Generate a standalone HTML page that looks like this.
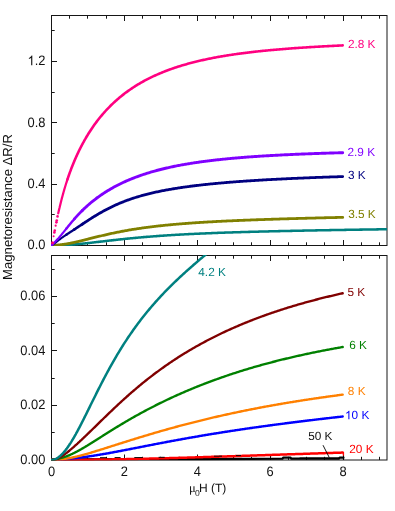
<!DOCTYPE html>
<html lang="en">
<head>
<meta charset="utf-8">
<title>Magnetoresistance vs field</title>
<style>
html,body{margin:0;padding:0;background:#fff;}
body{width:395px;height:511px;overflow:hidden;font-family:"Liberation Sans",sans-serif;}
svg{display:block;will-change:transform;}
svg text{text-rendering:geometricPrecision;}
</style>
</head>
<body>
<svg width="395" height="511" viewBox="0 0 395 511">
<rect x="0" y="0" width="395" height="511" fill="#fff"/>
<defs>
<clipPath id="ct"><rect x="51.0" y="15.5" width="336.0" height="230.5"/></clipPath>
<clipPath id="cb"><rect x="51.0" y="254.9" width="336.0" height="205.7"/></clipPath>
</defs>
<g stroke="#161616" stroke-width="1.0" fill="none" shape-rendering="auto">
<rect x="51.5" y="15.5" width="335.5" height="230.0"/>
<rect x="51.5" y="255.5" width="335.5" height="204.5"/>
<path d="M69.50 15.5 v3.2 M69.50 245.5 v-3.2 M69.50 255.5 v3.2 M69.50 460.0 v-3.2 M87.50 15.5 v3.2 M87.50 245.5 v-3.2 M87.50 255.5 v3.2 M87.50 460.0 v-3.2 M106.50 15.5 v3.2 M106.50 245.5 v-3.2 M106.50 255.5 v3.2 M106.50 460.0 v-3.2 M124.50 15.5 v5.5 M124.50 245.5 v-5.5 M124.50 255.5 v5.5 M124.50 460.0 v-5.5 M142.50 15.5 v3.2 M142.50 245.5 v-3.2 M142.50 255.5 v3.2 M142.50 460.0 v-3.2 M160.50 15.5 v3.2 M160.50 245.5 v-3.2 M160.50 255.5 v3.2 M160.50 460.0 v-3.2 M179.50 15.5 v3.2 M179.50 245.5 v-3.2 M179.50 255.5 v3.2 M179.50 460.0 v-3.2 M197.50 15.5 v5.5 M197.50 245.5 v-5.5 M197.50 255.5 v5.5 M197.50 460.0 v-5.5 M215.50 15.5 v3.2 M215.50 245.5 v-3.2 M215.50 255.5 v3.2 M215.50 460.0 v-3.2 M233.50 15.5 v3.2 M233.50 245.5 v-3.2 M233.50 255.5 v3.2 M233.50 460.0 v-3.2 M251.50 15.5 v3.2 M251.50 245.5 v-3.2 M251.50 255.5 v3.2 M251.50 460.0 v-3.2 M270.50 15.5 v5.5 M270.50 245.5 v-5.5 M270.50 255.5 v5.5 M270.50 460.0 v-5.5 M288.50 15.5 v3.2 M288.50 245.5 v-3.2 M288.50 255.5 v3.2 M288.50 460.0 v-3.2 M306.50 15.5 v3.2 M306.50 245.5 v-3.2 M306.50 255.5 v3.2 M306.50 460.0 v-3.2 M324.50 15.5 v3.2 M324.50 245.5 v-3.2 M324.50 255.5 v3.2 M324.50 460.0 v-3.2 M343.50 15.5 v5.5 M343.50 245.5 v-5.5 M343.50 255.5 v5.5 M343.50 460.0 v-5.5 M361.50 15.5 v3.2 M361.50 245.5 v-3.2 M361.50 255.5 v3.2 M361.50 460.0 v-3.2 M379.50 15.5 v3.2 M379.50 245.5 v-3.2 M379.50 255.5 v3.2 M379.50 460.0 v-3.2 M51.5 214.50 h3.2 M51.5 184.50 h5.5 M51.5 153.50 h3.2 M51.5 122.50 h5.5 M51.5 92.50 h3.2 M51.5 61.50 h5.5 M51.5 30.50 h3.2 M51.5 432.50 h3.2 M51.5 405.50 h5.5 M51.5 378.50 h3.2 M51.5 350.50 h5.5 M51.5 323.50 h3.2 M51.5 296.50 h5.5 M51.5 269.50 h3.2"/>
</g>
<g clip-path="url(#ct)" fill="none" stroke-linecap="round" stroke-linejoin="round">
<path d="M51.50 245.50 L51.81 245.50 L52.11 245.50 L52.42 245.50 L52.50 245.50 L52.73 245.50 L53.03 245.49 L53.34 245.49 L53.50 245.49 L53.64 245.49 L53.95 245.49 L54.26 245.48 L54.50 245.48 L54.56 245.48 L54.87 245.48 L55.18 245.47 L55.48 245.47 L55.51 245.46 L55.79 245.46 L56.09 245.45 L56.40 245.45 L56.51 245.45 L56.71 245.44 L57.01 245.43 L57.32 245.43 L57.51 245.42 L57.63 245.42 L57.93 245.41 L58.24 245.40 L58.51 245.39 L58.54 245.39 L58.85 245.38 L59.16 245.37 L59.46 245.36 L59.51 245.36 L59.77 245.35 L60.08 245.34 L60.38 245.33 L60.51 245.32 L60.69 245.32 L61.00 245.31 L61.30 245.29 L61.51 245.28 L61.61 245.28 L61.91 245.27 L62.22 245.25 L62.52 245.24 L62.53 245.24 L62.83 245.22 L63.14 245.21 L63.45 245.19 L63.52 245.19 L63.75 245.18 L64.06 245.16 L64.36 245.15 L64.52 245.14 L64.67 245.13 L64.98 245.11 L65.28 245.10 L65.52 245.08 L65.59 245.08 L65.90 245.06 L66.20 245.04 L66.51 245.02 L66.52 245.02 L66.82 245.00 L67.12 244.99 L67.43 244.97 L67.52 244.96 L67.73 244.95 L68.04 244.93 L68.35 244.91 L68.53 244.89 L68.65 244.88 L68.96 244.86 L69.27 244.84 L69.53 244.82 L69.57 244.82 L69.88 244.80 L70.18 244.78 L70.49 244.75 L70.53 244.75 L70.80 244.73 L71.10 244.71 L71.41 244.68 L71.53 244.67 L71.72 244.66 L72.02 244.64 L72.33 244.61 L72.53 244.59 L72.63 244.59 L72.94 244.56 L73.25 244.54 L73.53 244.51 L73.55 244.51 L73.86 244.48 L74.17 244.46 L74.47 244.43 L74.53 244.43 L74.78 244.41 L75.09 244.38 L75.39 244.35 L75.54 244.34 L75.70 244.33 L76.00 244.30 L76.31 244.27 L76.54 244.25 L76.62 244.24 L76.92 244.21 L77.23 244.19 L77.54 244.16 L77.54 244.16 L77.84 244.13 L78.15 244.10 L78.45 244.07 L78.54 244.06 L78.76 244.04 L79.07 244.01 L79.37 243.98 L79.54 243.97 L79.68 243.95 L79.99 243.92 L80.29 243.89 L80.54 243.87 L80.60 243.86 L80.91 243.83 L81.21 243.80 L81.52 243.77 L81.54 243.77 L81.82 243.74 L82.13 243.71 L82.44 243.68 L82.55 243.66 L82.74 243.64 L83.05 243.61 L83.36 243.58 L83.55 243.56 L83.66 243.55 L83.97 243.52 L84.27 243.48 L84.55 243.45 L84.58 243.45 L84.89 243.42 L85.19 243.39 L85.50 243.35 L85.55 243.35 L85.81 243.32 L86.11 243.29 L86.42 243.25 L86.55 243.24 L86.72 243.22 L87.03 243.19 L87.34 243.15 L87.55 243.13 L87.64 243.12 L87.95 243.09 L88.55 243.02 L89.56 242.91 L90.56 242.79 L91.56 242.68 L92.56 242.57 L93.56 242.45 L94.56 242.34 L95.57 242.22 L96.57 242.10 L97.57 241.99 L98.57 241.87 L99.57 241.75 L100.57 241.64 L101.57 241.52 L102.58 241.40 L103.58 241.29 L104.58 241.17 L105.58 241.05 L106.58 240.94 L107.58 240.82 L108.58 240.71 L109.59 240.59 L110.59 240.48 L111.59 240.36 L112.59 240.25 L113.59 240.14 L114.59 240.03 L115.59 239.91 L116.60 239.80 L117.60 239.69 L118.60 239.58 L119.60 239.48 L120.60 239.37 L121.60 239.26 L122.61 239.16 L123.61 239.05 L124.61 238.95 L125.61 238.84 L126.61 238.74 L127.61 238.64 L128.61 238.54 L129.62 238.44 L130.62 238.34 L131.62 238.24 L132.62 238.15 L133.62 238.05 L134.62 237.95 L135.62 237.86 L136.63 237.77 L137.63 237.68 L138.63 237.58 L139.63 237.49 L140.63 237.41 L141.63 237.32 L142.64 237.23 L143.64 237.14 L144.64 237.06 L145.64 236.97 L146.64 236.89 L147.64 236.81 L148.64 236.73 L149.65 236.65 L150.65 236.57 L151.65 236.49 L152.65 236.41 L153.65 236.33 L154.65 236.26 L155.65 236.18 L156.66 236.11 L157.66 236.03 L158.66 235.96 L159.66 235.89 L160.66 235.82 L161.66 235.75 L162.66 235.68 L163.67 235.61 L164.67 235.54 L165.67 235.48 L166.67 235.41 L167.67 235.35 L168.67 235.28 L169.68 235.22 L170.68 235.16 L171.68 235.09 L172.68 235.03 L173.68 234.97 L174.68 234.91 L175.68 234.85 L176.69 234.79 L177.69 234.74 L178.69 234.68 L179.69 234.62 L180.69 234.57 L181.69 234.51 L182.69 234.46 L183.70 234.40 L184.70 234.35 L185.70 234.30 L186.70 234.24 L187.70 234.19 L188.70 234.14 L189.70 234.09 L190.71 234.04 L191.71 233.99 L192.71 233.94 L193.71 233.90 L194.71 233.85 L195.71 233.80 L196.72 233.75 L197.72 233.71 L198.72 233.66 L199.72 233.62 L200.72 233.57 L201.72 233.53 L202.72 233.49 L203.73 233.44 L204.73 233.40 L205.73 233.36 L206.73 233.32 L207.73 233.27 L208.73 233.23 L209.73 233.19 L210.74 233.15 L211.74 233.11 L212.74 233.08 L213.74 233.04 L214.74 233.00 L215.74 232.96 L216.74 232.92 L217.75 232.89 L218.75 232.85 L219.75 232.81 L220.75 232.78 L221.75 232.74 L222.75 232.70 L223.76 232.67 L224.76 232.63 L225.76 232.60 L226.76 232.57 L227.76 232.53 L228.76 232.50 L229.76 232.47 L230.77 232.43 L231.77 232.40 L232.77 232.37 L233.77 232.34 L234.77 232.30 L235.77 232.27 L236.77 232.24 L237.78 232.21 L238.78 232.18 L239.78 232.15 L240.78 232.12 L241.78 232.09 L242.78 232.06 L243.78 232.03 L244.79 232.00 L245.79 231.97 L246.79 231.95 L247.79 231.92 L248.79 231.89 L249.79 231.86 L250.80 231.83 L251.80 231.81 L252.80 231.78 L253.80 231.75 L254.80 231.73 L255.80 231.70 L256.80 231.67 L257.81 231.65 L258.81 231.62 L259.81 231.60 L260.81 231.57 L261.81 231.54 L262.81 231.52 L263.81 231.49 L264.82 231.47 L265.82 231.45 L266.82 231.42 L267.82 231.40 L268.82 231.37 L269.82 231.35 L270.82 231.32 L271.83 231.30 L272.83 231.28 L273.83 231.25 L274.83 231.23 L275.83 231.21 L276.83 231.19 L277.84 231.16 L278.84 231.14 L279.84 231.12 L280.84 231.10 L281.84 231.07 L282.84 231.05 L283.84 231.03 L284.85 231.01 L285.85 230.99 L286.85 230.96 L287.85 230.94 L288.85 230.92 L289.85 230.90 L290.85 230.88 L291.86 230.86 L292.86 230.84 L293.86 230.82 L294.86 230.80 L295.86 230.78 L296.86 230.76 L297.86 230.74 L298.87 230.72 L299.87 230.70 L300.87 230.68 L301.87 230.66 L302.87 230.64 L303.87 230.62 L304.88 230.60 L305.88 230.58 L306.88 230.56 L307.88 230.54 L308.88 230.52 L309.88 230.50 L310.88 230.48 L311.89 230.46 L312.89 230.45 L313.89 230.43 L314.89 230.41 L315.89 230.39 L316.89 230.37 L317.89 230.35 L318.90 230.33 L319.90 230.32 L320.90 230.30 L321.90 230.28 L322.90 230.26 L323.90 230.24 L324.91 230.23 L325.91 230.21 L326.91 230.19 L327.91 230.17 L328.91 230.16 L329.91 230.14 L330.91 230.12 L331.92 230.10 L332.92 230.09 L333.92 230.07 L334.92 230.05 L335.92 230.04 L336.92 230.02 L337.92 230.00 L338.93 229.98 L339.93 229.97 L340.93 229.95 L341.93 229.93 L342.93 229.92 L343.93 229.90 L344.93 229.88 L345.94 229.87 L346.94 229.85 L347.94 229.84 L348.94 229.82 L349.94 229.80 L350.94 229.79 L351.95 229.77 L352.95 229.75 L353.95 229.74 L354.95 229.72 L355.95 229.71 L356.95 229.69 L357.95 229.67 L358.96 229.66 L359.96 229.64 L360.96 229.63 L361.96 229.61 L362.96 229.60 L363.96 229.58 L364.96 229.56 L365.97 229.55 L366.97 229.53 L367.97 229.52 L368.97 229.50 L369.97 229.49 L370.97 229.47 L371.97 229.46 L372.98 229.44 L373.98 229.43 L374.98 229.41 L375.98 229.40 L376.98 229.38 L377.98 229.37 L378.99 229.35 L379.99 229.34 L380.99 229.32 L381.99 229.31 L382.99 229.29 L383.99 229.28 L384.99 229.26 L386.00 229.25 L387.00 229.23 L388.00 229.22 L389.00 229.20" stroke="#008080" stroke-width="2.55"/>
<path d="M51.50 245.50 L51.81 245.48 L52.11 245.46 L52.42 245.44 L52.50 245.43 L52.73 245.42 L53.03 245.40 L53.34 245.37 L53.50 245.36 L53.64 245.35 L53.95 245.33 L54.26 245.31 L54.50 245.29 L54.56 245.29 L54.87 245.26 L55.18 245.24 L55.48 245.21 L55.50 245.21 L55.79 245.19 L56.09 245.16 L56.40 245.14 L56.50 245.13 L56.71 245.11 L57.01 245.08 L57.32 245.06 L57.50 245.04 L57.63 245.03 L57.93 245.00 L58.24 244.97 L58.50 244.94 L58.54 244.94 L58.85 244.91 L59.16 244.88 L59.46 244.84 L59.51 244.84 L59.77 244.81 L60.08 244.77 L60.38 244.74 L60.51 244.73 L60.69 244.70 L61.00 244.67 L61.30 244.63 L61.51 244.60 L61.61 244.59 L61.91 244.55 L62.22 244.51 L62.51 244.47 L62.53 244.47 L62.83 244.43 L63.14 244.39 L63.45 244.35 L63.51 244.34 L63.75 244.30 L64.06 244.26 L64.36 244.21 L64.51 244.19 L64.67 244.17 L64.98 244.12 L65.28 244.07 L65.51 244.04 L65.59 244.02 L65.90 243.98 L66.20 243.93 L66.51 243.87 L66.51 243.87 L66.82 243.82 L67.12 243.77 L67.43 243.72 L67.51 243.70 L67.73 243.67 L68.04 243.61 L68.35 243.56 L68.51 243.53 L68.65 243.50 L68.96 243.45 L69.27 243.39 L69.51 243.34 L69.57 243.33 L69.88 243.27 L70.18 243.22 L70.49 243.16 L70.51 243.15 L70.80 243.10 L71.10 243.04 L71.41 242.98 L71.51 242.95 L71.72 242.91 L72.02 242.85 L72.33 242.79 L72.51 242.75 L72.63 242.73 L72.94 242.66 L73.25 242.60 L73.52 242.54 L73.55 242.53 L73.86 242.47 L74.17 242.40 L74.47 242.34 L74.52 242.33 L74.78 242.27 L75.09 242.20 L75.39 242.13 L75.52 242.11 L75.70 242.07 L76.00 242.00 L76.31 241.93 L76.52 241.88 L76.62 241.86 L76.92 241.79 L77.23 241.72 L77.52 241.65 L77.54 241.65 L77.84 241.58 L78.15 241.51 L78.45 241.44 L78.52 241.42 L78.76 241.36 L79.07 241.29 L79.37 241.22 L79.52 241.19 L79.68 241.15 L79.99 241.07 L80.29 241.00 L80.52 240.95 L80.60 240.93 L80.91 240.85 L81.21 240.78 L81.52 240.71 L81.52 240.71 L81.82 240.63 L82.13 240.56 L82.44 240.48 L82.52 240.46 L82.74 240.41 L83.05 240.33 L83.36 240.26 L83.52 240.22 L83.66 240.18 L83.97 240.11 L84.27 240.03 L84.52 239.97 L84.58 239.95 L84.89 239.88 L85.19 239.80 L85.50 239.72 L85.52 239.72 L85.81 239.65 L86.11 239.57 L86.42 239.50 L86.52 239.47 L86.72 239.42 L87.03 239.34 L87.34 239.26 L87.52 239.22 L87.64 239.19 L87.95 239.11 L88.53 238.97 L89.53 238.71 L90.53 238.46 L91.53 238.21 L92.53 237.96 L93.53 237.71 L94.53 237.46 L95.53 237.21 L96.53 236.96 L97.53 236.72 L98.53 236.47 L99.53 236.23 L100.53 235.99 L101.53 235.75 L102.54 235.51 L103.54 235.27 L104.54 235.04 L105.54 234.81 L106.54 234.58 L107.54 234.35 L108.54 234.13 L109.54 233.91 L110.54 233.69 L111.54 233.47 L112.54 233.25 L113.54 233.04 L114.54 232.83 L115.54 232.62 L116.54 232.42 L117.55 232.22 L118.55 232.02 L119.55 231.82 L120.55 231.63 L121.55 231.43 L122.55 231.25 L123.55 231.06 L124.55 230.87 L125.55 230.69 L126.55 230.51 L127.55 230.34 L128.55 230.16 L129.55 229.99 L130.55 229.82 L131.55 229.66 L132.56 229.49 L133.56 229.33 L134.56 229.17 L135.56 229.01 L136.56 228.86 L137.56 228.71 L138.56 228.56 L139.56 228.41 L140.56 228.26 L141.56 228.12 L142.56 227.98 L143.56 227.84 L144.56 227.70 L145.56 227.56 L146.57 227.43 L147.57 227.30 L148.57 227.17 L149.57 227.04 L150.57 226.91 L151.57 226.79 L152.57 226.67 L153.57 226.55 L154.57 226.43 L155.57 226.31 L156.57 226.20 L157.57 226.08 L158.57 225.97 L159.57 225.86 L160.57 225.75 L161.58 225.65 L162.58 225.54 L163.58 225.44 L164.58 225.33 L165.58 225.23 L166.58 225.13 L167.58 225.03 L168.58 224.94 L169.58 224.84 L170.58 224.75 L171.58 224.65 L172.58 224.56 L173.58 224.47 L174.58 224.38 L175.59 224.29 L176.59 224.21 L177.59 224.12 L178.59 224.04 L179.59 223.95 L180.59 223.87 L181.59 223.79 L182.59 223.71 L183.59 223.63 L184.59 223.56 L185.59 223.48 L186.59 223.40 L187.59 223.33 L188.59 223.25 L189.59 223.18 L190.60 223.11 L191.60 223.04 L192.60 222.97 L193.60 222.90 L194.60 222.83 L195.60 222.76 L196.60 222.70 L197.60 222.63 L198.60 222.56 L199.60 222.50 L200.60 222.44 L201.60 222.37 L202.60 222.31 L203.60 222.25 L204.61 222.19 L205.61 222.13 L206.61 222.07 L207.61 222.01 L208.61 221.95 L209.61 221.90 L210.61 221.84 L211.61 221.78 L212.61 221.73 L213.61 221.67 L214.61 221.62 L215.61 221.57 L216.61 221.51 L217.61 221.46 L218.61 221.41 L219.62 221.36 L220.62 221.31 L221.62 221.26 L222.62 221.21 L223.62 221.16 L224.62 221.11 L225.62 221.06 L226.62 221.01 L227.62 220.97 L228.62 220.92 L229.62 220.87 L230.62 220.83 L231.62 220.78 L232.62 220.74 L233.63 220.69 L234.63 220.65 L235.63 220.61 L236.63 220.56 L237.63 220.52 L238.63 220.48 L239.63 220.44 L240.63 220.39 L241.63 220.35 L242.63 220.31 L243.63 220.27 L244.63 220.23 L245.63 220.19 L246.63 220.15 L247.63 220.11 L248.64 220.07 L249.64 220.03 L250.64 220.00 L251.64 219.96 L252.64 219.92 L253.64 219.88 L254.64 219.85 L255.64 219.81 L256.64 219.77 L257.64 219.74 L258.64 219.70 L259.64 219.67 L260.64 219.63 L261.64 219.60 L262.65 219.56 L263.65 219.53 L264.65 219.49 L265.65 219.46 L266.65 219.42 L267.65 219.39 L268.65 219.36 L269.65 219.32 L270.65 219.29 L271.65 219.26 L272.65 219.23 L273.65 219.19 L274.65 219.16 L275.65 219.13 L276.65 219.10 L277.66 219.07 L278.66 219.04 L279.66 219.01 L280.66 218.97 L281.66 218.94 L282.66 218.91 L283.66 218.88 L284.66 218.85 L285.66 218.82 L286.66 218.79 L287.66 218.76 L288.66 218.74 L289.66 218.71 L290.66 218.68 L291.66 218.65 L292.67 218.62 L293.67 218.59 L294.67 218.56 L295.67 218.53 L296.67 218.51 L297.67 218.48 L298.67 218.45 L299.67 218.42 L300.67 218.40 L301.67 218.37 L302.67 218.34 L303.67 218.31 L304.67 218.29 L305.67 218.26 L306.68 218.23 L307.68 218.21 L308.68 218.18 L309.68 218.15 L310.68 218.13 L311.68 218.10 L312.68 218.08 L313.68 218.05 L314.68 218.03 L315.68 218.00 L316.68 217.97 L317.68 217.95 L318.68 217.92 L319.68 217.90 L320.68 217.87 L321.69 217.85 L322.69 217.82 L323.69 217.80 L324.69 217.77 L325.69 217.75 L326.69 217.72 L327.69 217.70 L328.69 217.68 L329.69 217.65 L330.69 217.63 L331.69 217.60 L332.69 217.58 L333.69 217.56 L334.69 217.53 L335.70 217.51 L336.70 217.48 L337.70 217.46 L338.70 217.44 L339.70 217.41 L340.70 217.39 L341.70 217.37 L342.70 217.34" stroke="#808000" stroke-width="2.8"/>
<path d="M51.50 245.50 L51.81 245.29 L52.11 245.09 L52.42 244.88 L52.50 244.82 L52.73 244.66 L53.03 244.45 L53.34 244.23 L53.50 244.11 L53.64 244.01 L53.95 243.79 L54.26 243.56 L54.50 243.38 L54.56 243.33 L54.87 243.10 L55.18 242.87 L55.48 242.63 L55.50 242.62 L55.79 242.40 L56.09 242.16 L56.40 241.92 L56.50 241.84 L56.71 241.68 L57.01 241.44 L57.32 241.20 L57.50 241.06 L57.63 240.96 L57.93 240.73 L58.24 240.49 L58.50 240.28 L58.54 240.25 L58.85 240.02 L59.16 239.78 L59.46 239.55 L59.51 239.52 L59.77 239.32 L60.08 239.09 L60.38 238.86 L60.51 238.77 L60.69 238.64 L61.00 238.41 L61.30 238.19 L61.51 238.04 L61.61 237.97 L61.91 237.75 L62.22 237.53 L62.51 237.32 L62.53 237.31 L62.83 237.10 L63.14 236.88 L63.45 236.67 L63.51 236.63 L63.75 236.46 L64.06 236.25 L64.36 236.04 L64.51 235.94 L64.67 235.83 L64.98 235.62 L65.28 235.41 L65.51 235.26 L65.59 235.21 L65.90 235.00 L66.20 234.80 L66.51 234.60 L66.51 234.59 L66.82 234.39" stroke="#000080" stroke-width="2.07"/>
<path d="M66.20 234.80 L66.51 234.60 L66.51 234.59 L66.82 234.39 L67.12 234.19 L67.43 233.99 L67.51 233.93 L67.73 233.79 L68.04 233.58 L68.35 233.38 L68.51 233.27 L68.65 233.18 L68.96 232.98 L69.27 232.78 L69.51 232.62 L69.57 232.58 L69.88 232.38 L70.18 232.18 L70.49 231.98 L70.51 231.96 L70.80 231.78 L71.10 231.58 L71.41 231.38 L71.51 231.31 L71.72 231.18 L72.02 230.98 L72.33 230.78 L72.51 230.65 L72.63 230.58 L72.94 230.37 L73.25 230.17 L73.52 230.00 L73.55 229.97 L73.86 229.77 L74.17 229.57 L74.47 229.37 L74.52 229.34 L74.78 229.17" stroke="#000080" stroke-width="2.35"/>
<path d="M74.17 229.57 L74.47 229.37 L74.52 229.34 L74.78 229.17 L75.09 228.96 L75.39 228.76 L75.52 228.68 L75.70 228.56 L76.00 228.36 L76.31 228.16 L76.52 228.02 L76.62 227.95 L76.92 227.75 L77.23 227.55 L77.52 227.36 L77.54 227.34 L77.84 227.14 L78.15 226.94 L78.45 226.74 L78.52 226.69 L78.76 226.53 L79.07 226.33 L79.37 226.13 L79.52 226.03 L79.68 225.92 L79.99 225.72 L80.29 225.52 L80.52 225.36 L80.60 225.31 L80.91 225.11 L81.21 224.91 L81.52 224.70 L81.52 224.70 L81.82 224.50 L82.13 224.30 L82.44 224.09 L82.52 224.04 L82.74 223.89" stroke="#000080" stroke-width="2.60"/>
<path d="M82.13 224.30 L82.44 224.09 L82.52 224.04 L82.74 223.89 L83.05 223.69 L83.36 223.48 L83.52 223.37 L83.66 223.28 L83.97 223.08 L84.27 222.88 L84.52 222.71 L84.58 222.67 L84.89 222.47 L85.19 222.27 L85.50 222.07 L85.52 222.05 L85.81 221.87 L86.11 221.67 L86.42 221.47 L86.52 221.40 L86.72 221.27 L87.03 221.07 L87.34 220.87 L87.52 220.74 L87.64 220.67 L87.95 220.47 L88.53 220.10 L89.53 219.45 L90.53 218.81 L91.53 218.17 L92.53 217.54 L93.53 216.92 L94.53 216.30 L95.53 215.69 L96.53 215.09 L97.53 214.49 L98.53 213.90 L99.53 213.31 L100.53 212.74 L101.53 212.17 L102.54 211.61 L103.54 211.06 L104.54 210.51 L105.54 209.97 L106.54 209.45 L107.54 208.93 L108.54 208.41 L109.54 207.91 L110.54 207.41 L111.54 206.93 L112.54 206.45 L113.54 205.98 L114.54 205.51 L115.54 205.06 L116.54 204.61 L117.55 204.17 L118.55 203.74 L119.55 203.31 L120.55 202.90 L121.55 202.49 L122.55 202.09 L123.55 201.69 L124.55 201.30 L125.55 200.92 L126.55 200.55 L127.55 200.18 L128.55 199.82 L129.55 199.47 L130.55 199.12 L131.55 198.78 L132.56 198.44 L133.56 198.12 L134.56 197.79 L135.56 197.48 L136.56 197.16 L137.56 196.86 L138.56 196.56 L139.56 196.26 L140.56 195.97 L141.56 195.69 L142.56 195.41 L143.56 195.14 L144.56 194.87 L145.56 194.60 L146.57 194.34 L147.57 194.09 L148.57 193.83 L149.57 193.59 L150.57 193.34 L151.57 193.11 L152.57 192.87 L153.57 192.64 L154.57 192.42 L155.57 192.19 L156.57 191.97 L157.57 191.76 L158.57 191.55 L159.57 191.34 L160.57 191.13 L161.58 190.93 L162.58 190.73 L163.58 190.54 L164.58 190.35 L165.58 190.16 L166.58 189.97 L167.58 189.79 L168.58 189.61 L169.58 189.43 L170.58 189.26 L171.58 189.08 L172.58 188.92 L173.58 188.75 L174.58 188.58 L175.59 188.42 L176.59 188.26 L177.59 188.11 L178.59 187.95 L179.59 187.80 L180.59 187.65 L181.59 187.50 L182.59 187.35 L183.59 187.21 L184.59 187.07 L185.59 186.93 L186.59 186.79 L187.59 186.66 L188.59 186.52 L189.59 186.39 L190.60 186.26 L191.60 186.13 L192.60 186.00 L193.60 185.88 L194.60 185.75 L195.60 185.63 L196.60 185.51 L197.60 185.39 L198.60 185.28 L199.60 185.16 L200.60 185.05 L201.60 184.93 L202.60 184.82 L203.60 184.71 L204.61 184.60 L205.61 184.50 L206.61 184.39 L207.61 184.29 L208.61 184.18 L209.61 184.08 L210.61 183.98 L211.61 183.88 L212.61 183.78 L213.61 183.68 L214.61 183.59 L215.61 183.49 L216.61 183.40 L217.61 183.30 L218.61 183.21 L219.62 183.12 L220.62 183.03 L221.62 182.94 L222.62 182.86 L223.62 182.77 L224.62 182.68 L225.62 182.60 L226.62 182.51 L227.62 182.43 L228.62 182.35 L229.62 182.27 L230.62 182.19 L231.62 182.11 L232.62 182.03 L233.63 181.95 L234.63 181.87 L235.63 181.80 L236.63 181.72 L237.63 181.65 L238.63 181.57 L239.63 181.50 L240.63 181.43 L241.63 181.36 L242.63 181.28 L243.63 181.21 L244.63 181.14 L245.63 181.08 L246.63 181.01 L247.63 180.94 L248.64 180.87 L249.64 180.81 L250.64 180.74 L251.64 180.68 L252.64 180.61 L253.64 180.55 L254.64 180.48 L255.64 180.42 L256.64 180.36 L257.64 180.30 L258.64 180.24 L259.64 180.18 L260.64 180.12 L261.64 180.06 L262.65 180.00 L263.65 179.94 L264.65 179.88 L265.65 179.83 L266.65 179.77 L267.65 179.71 L268.65 179.66 L269.65 179.60 L270.65 179.55 L271.65 179.49 L272.65 179.44 L273.65 179.39 L274.65 179.34 L275.65 179.28 L276.65 179.23 L277.66 179.18 L278.66 179.13 L279.66 179.08 L280.66 179.03 L281.66 178.98 L282.66 178.93 L283.66 178.88 L284.66 178.83 L285.66 178.78 L286.66 178.74 L287.66 178.69 L288.66 178.64 L289.66 178.60 L290.66 178.55 L291.66 178.50 L292.67 178.46 L293.67 178.41 L294.67 178.37 L295.67 178.33 L296.67 178.28 L297.67 178.24 L298.67 178.19 L299.67 178.15 L300.67 178.11 L301.67 178.07 L302.67 178.03 L303.67 177.98 L304.67 177.94 L305.67 177.90 L306.68 177.86 L307.68 177.82 L308.68 177.78 L309.68 177.74 L310.68 177.70 L311.68 177.66 L312.68 177.62 L313.68 177.59 L314.68 177.55 L315.68 177.51 L316.68 177.47 L317.68 177.43 L318.68 177.40 L319.68 177.36 L320.68 177.32 L321.69 177.29 L322.69 177.25 L323.69 177.22 L324.69 177.18 L325.69 177.15 L326.69 177.11 L327.69 177.08 L328.69 177.04 L329.69 177.01 L330.69 176.97 L331.69 176.94 L332.69 176.91 L333.69 176.87 L334.69 176.84 L335.70 176.81 L336.70 176.78 L337.70 176.74 L338.70 176.71 L339.70 176.68 L340.70 176.65 L341.70 176.62 L342.70 176.59" stroke="#000080" stroke-width="2.8"/>
<path d="M51.50 245.50 L51.81 245.17 L52.11 244.85 L52.42 244.54 L52.50 244.45 L52.73 244.22 L53.03 243.91 L53.34 243.60 L53.50 243.43 L53.64 243.29 L53.95 242.97 L54.26 242.66 L54.50 242.41 L54.56 242.35 L54.87 242.04 L55.18 241.72 L55.48 241.41 L55.50 241.39 L55.79 241.09 L56.09 240.77 L56.40 240.44 L56.50 240.33 L56.71 240.12 L57.01 239.79 L57.32 239.45 L57.50 239.25 L57.63 239.12 L57.93 238.78 L58.24 238.44 L58.50 238.14 L58.54 238.09 L58.85 237.75 L59.16 237.40 L59.46 237.04 L59.51 236.99 L59.77 236.69 L60.08 236.33 L60.38 235.97 L60.51 235.82 L60.69 235.60 L61.00 235.24 L61.30 234.87 L61.51 234.62 L61.61 234.50 L61.91 234.13 L62.22 233.76 L62.51 233.40 L62.53 233.38 L62.83 233.00 L63.14 232.63 L63.45 232.25 L63.51 232.17 L63.75 231.87 L64.06 231.49 L64.36 231.11 L64.51 230.93 L64.67 230.72 L64.98 230.34 L65.28 229.96 L65.51 229.68 L65.59 229.58 L65.90 229.19 L66.20 228.81 L66.51 228.43 L66.51 228.43 L66.82 228.05" stroke="#8000ff" stroke-width="2.15"/>
<path d="M66.20 228.81 L66.51 228.43 L66.51 228.43 L66.82 228.05 L67.12 227.67 L67.43 227.28 L67.51 227.18 L67.73 226.90 L68.04 226.52 L68.35 226.15 L68.51 225.94 L68.65 225.77 L68.96 225.39 L69.27 225.01 L69.51 224.71 L69.57 224.64 L69.88 224.27 L70.18 223.89 L70.49 223.52 L70.51 223.49 L70.80 223.15 L71.10 222.78 L71.41 222.42 L71.51 222.29 L71.72 222.05 L72.02 221.69 L72.33 221.32 L72.51 221.10 L72.63 220.96 L72.94 220.60 L73.25 220.25 L73.52 219.93 L73.55 219.89 L73.86 219.54 L74.17 219.18 L74.47 218.83 L74.52 218.78 L74.78 218.48" stroke="#8000ff" stroke-width="2.44"/>
<path d="M74.17 219.18 L74.47 218.83 L74.52 218.78 L74.78 218.48 L75.09 218.14 L75.39 217.79 L75.52 217.65 L75.70 217.45 L76.00 217.11 L76.31 216.77 L76.52 216.54 L76.62 216.43 L76.92 216.10 L77.23 215.76 L77.52 215.45 L77.54 215.43 L77.84 215.10 L78.15 214.77 L78.45 214.44 L78.52 214.38 L78.76 214.12 L79.07 213.80 L79.37 213.48 L79.52 213.33 L79.68 213.16 L79.99 212.84 L80.29 212.53 L80.52 212.29 L80.60 212.21 L80.91 211.90 L81.21 211.59 L81.52 211.29 L81.52 211.28 L81.82 210.98 L82.13 210.68 L82.44 210.37 L82.52 210.29 L82.74 210.07" stroke="#8000ff" stroke-width="2.70"/>
<path d="M82.13 210.68 L82.44 210.37 L82.52 210.29 L82.74 210.07 L83.05 209.77 L83.36 209.48 L83.52 209.32 L83.66 209.18 L83.97 208.89 L84.27 208.60 L84.52 208.36 L84.58 208.31 L84.89 208.02 L85.19 207.74 L85.50 207.45 L85.52 207.43 L85.81 207.17 L86.11 206.89 L86.42 206.61 L86.52 206.51 L86.72 206.33 L87.03 206.06 L87.34 205.78 L87.52 205.62 L87.64 205.51 L87.95 205.24 L88.53 204.73 L89.53 203.87 L90.53 203.02 L91.53 202.19 L92.53 201.38 L93.53 200.58 L94.53 199.80 L95.53 199.03 L96.53 198.27 L97.53 197.53 L98.53 196.80 L99.53 196.09 L100.53 195.39 L101.53 194.70 L102.54 194.03 L103.54 193.36 L104.54 192.71 L105.54 192.07 L106.54 191.45 L107.54 190.83 L108.54 190.22 L109.54 189.63 L110.54 189.04 L111.54 188.47 L112.54 187.90 L113.54 187.35 L114.54 186.80 L115.54 186.27 L116.54 185.74 L117.55 185.22 L118.55 184.71 L119.55 184.21 L120.55 183.72 L121.55 183.24 L122.55 182.76 L123.55 182.30 L124.55 181.84 L125.55 181.39 L126.55 180.94 L127.55 180.50 L128.55 180.07 L129.55 179.65 L130.55 179.24 L131.55 178.83 L132.56 178.43 L133.56 178.03 L134.56 177.64 L135.56 177.26 L136.56 176.88 L137.56 176.52 L138.56 176.15 L139.56 175.79 L140.56 175.44 L141.56 175.10 L142.56 174.75 L143.56 174.42 L144.56 174.09 L145.56 173.77 L146.57 173.45 L147.57 173.13 L148.57 172.82 L149.57 172.52 L150.57 172.22 L151.57 171.93 L152.57 171.64 L153.57 171.35 L154.57 171.07 L155.57 170.79 L156.57 170.52 L157.57 170.25 L158.57 169.99 L159.57 169.73 L160.57 169.48 L161.58 169.23 L162.58 168.98 L163.58 168.74 L164.58 168.50 L165.58 168.26 L166.58 168.03 L167.58 167.80 L168.58 167.57 L169.58 167.35 L170.58 167.13 L171.58 166.92 L172.58 166.71 L173.58 166.50 L174.58 166.29 L175.59 166.09 L176.59 165.89 L177.59 165.70 L178.59 165.50 L179.59 165.31 L180.59 165.13 L181.59 164.94 L182.59 164.76 L183.59 164.58 L184.59 164.40 L185.59 164.23 L186.59 164.06 L187.59 163.89 L188.59 163.72 L189.59 163.56 L190.60 163.40 L191.60 163.24 L192.60 163.08 L193.60 162.93 L194.60 162.77 L195.60 162.62 L196.60 162.48 L197.60 162.33 L198.60 162.19 L199.60 162.04 L200.60 161.90 L201.60 161.77 L202.60 161.63 L203.60 161.49 L204.61 161.36 L205.61 161.23 L206.61 161.10 L207.61 160.98 L208.61 160.85 L209.61 160.73 L210.61 160.61 L211.61 160.49 L212.61 160.37 L213.61 160.25 L214.61 160.14 L215.61 160.02 L216.61 159.91 L217.61 159.80 L218.61 159.69 L219.62 159.58 L220.62 159.48 L221.62 159.37 L222.62 159.27 L223.62 159.17 L224.62 159.07 L225.62 158.97 L226.62 158.87 L227.62 158.77 L228.62 158.67 L229.62 158.58 L230.62 158.49 L231.62 158.40 L232.62 158.30 L233.63 158.21 L234.63 158.13 L235.63 158.04 L236.63 157.95 L237.63 157.87 L238.63 157.78 L239.63 157.70 L240.63 157.62 L241.63 157.54 L242.63 157.46 L243.63 157.38 L244.63 157.30 L245.63 157.22 L246.63 157.15 L247.63 157.07 L248.64 157.00 L249.64 156.92 L250.64 156.85 L251.64 156.78 L252.64 156.71 L253.64 156.64 L254.64 156.57 L255.64 156.50 L256.64 156.43 L257.64 156.37 L258.64 156.30 L259.64 156.23 L260.64 156.17 L261.64 156.11 L262.65 156.04 L263.65 155.98 L264.65 155.92 L265.65 155.86 L266.65 155.80 L267.65 155.74 L268.65 155.68 L269.65 155.62 L270.65 155.57 L271.65 155.51 L272.65 155.45 L273.65 155.40 L274.65 155.34 L275.65 155.29 L276.65 155.23 L277.66 155.18 L278.66 155.13 L279.66 155.08 L280.66 155.02 L281.66 154.97 L282.66 154.92 L283.66 154.87 L284.66 154.82 L285.66 154.78 L286.66 154.73 L287.66 154.68 L288.66 154.63 L289.66 154.59 L290.66 154.54 L291.66 154.50 L292.67 154.45 L293.67 154.41 L294.67 154.36 L295.67 154.32 L296.67 154.27 L297.67 154.23 L298.67 154.19 L299.67 154.15 L300.67 154.11 L301.67 154.06 L302.67 154.02 L303.67 153.98 L304.67 153.94 L305.67 153.90 L306.68 153.87 L307.68 153.83 L308.68 153.79 L309.68 153.75 L310.68 153.71 L311.68 153.68 L312.68 153.64 L313.68 153.60 L314.68 153.57 L315.68 153.53 L316.68 153.50 L317.68 153.46 L318.68 153.43 L319.68 153.39 L320.68 153.36 L321.69 153.32 L322.69 153.29 L323.69 153.26 L324.69 153.22 L325.69 153.19 L326.69 153.16 L327.69 153.13 L328.69 153.10 L329.69 153.07 L330.69 153.03 L331.69 153.00 L332.69 152.97 L333.69 152.94 L334.69 152.91 L335.70 152.88 L336.70 152.86 L337.70 152.83 L338.70 152.80 L339.70 152.77 L340.70 152.74 L341.70 152.71 L342.70 152.69" stroke="#8000ff" stroke-width="2.9"/>
<path d="M58.24 213.30 L58.50 212.12 L58.54 211.95 L58.85 210.61 L59.16 209.29 L59.46 207.99 L59.51 207.81 L59.77 206.70 L60.08 205.43 L60.38 204.18 L60.51 203.68 L60.69 202.94 L61.00 201.72 L61.30 200.51 L61.51 199.71 L61.61 199.32 L61.91 198.15 L62.22 196.99 L62.51 195.92 L62.53 195.85 L62.83 194.72 L63.14 193.61 L63.45 192.51 L63.51 192.29 L63.75 191.43 L64.06 190.36 L64.36 189.31 L64.51 188.81 L64.67 188.26 L64.98 187.24 L65.28 186.22 L65.51 185.48 L65.59 185.22 L65.90 184.23 L66.20 183.26 L66.51 182.29 L66.51 182.29 L66.82 181.34 L67.12 180.40 L67.43 179.47 L67.51 179.22" stroke="#ff0080" stroke-width="2.25"/>
<path d="M67.43 179.47 L67.51 179.22 L67.73 178.56 L68.04 177.65 L68.35 176.75 L68.51 176.27 L68.65 175.87 L68.96 174.99 L69.27 174.13 L69.51 173.44 L69.57 173.27 L69.88 172.42 L70.18 171.59 L70.49 170.76 L70.51 170.70 L70.80 169.94 L71.10 169.13 L71.41 168.33 L71.51 168.06 L71.72 167.54 L72.02 166.75 L72.33 165.98 L72.51 165.51 L72.63 165.21 L72.94 164.45 L73.25 163.69 L73.52 163.04 L73.55 162.95 L73.86 162.21 L74.17 161.48 L74.47 160.76 L74.52 160.65 L74.78 160.04 L75.09 159.33 L75.39 158.63 L75.52 158.34 L75.70 157.93 L76.00 157.24 L76.31 156.56 L76.52 156.10 L76.62 155.88 L76.92 155.21 L77.23 154.54 L77.52 153.92 L77.54 153.88 L77.84 153.23 L78.15 152.58 L78.45 151.94 L78.52 151.81 L78.76 151.30 L79.07 150.67 L79.37 150.05 L79.52 149.75 L79.68 149.43 L79.99 148.82 L80.29 148.21 L80.52 147.76 L80.60 147.60 L80.91 147.00 L81.21 146.41 L81.52 145.82 L81.52 145.82 L81.82 145.24 L82.13 144.66 L82.44 144.08 L82.52 143.93 L82.74 143.51 L83.05 142.95 L83.36 142.39 L83.52 142.08 L83.66 141.83 L83.97 141.28 L84.27 140.73 L84.52 140.29 L84.58 140.19 L84.89 139.65 L85.19 139.12 L85.50 138.59 L85.52 138.54 L85.81 138.06 L86.11 137.54 L86.42 137.02 L86.52 136.84 L86.72 136.50 L87.03 135.99 L87.34 135.49 L87.52 135.18 L87.64 134.98 L87.95 134.49 L88.53 133.56 L89.53 131.98 L90.53 130.43 L91.53 128.92 L92.53 127.45 L93.53 126.01 L94.53 124.60 L95.53 123.23 L96.53 121.88 L97.53 120.57 L98.53 119.28 L99.53 118.02 L100.53 116.79 L101.53 115.58 L102.54 114.40 L103.54 113.25 L104.54 112.11 L105.54 111.00 L106.54 109.92 L107.54 108.85 L108.54 107.81 L109.54 106.79 L110.54 105.78 L111.54 104.80 L112.54 103.84 L113.54 102.89 L114.54 101.96 L115.54 101.05 L116.54 100.16 L117.55 99.28 L118.55 98.42 L119.55 97.58 L120.55 96.75 L121.55 95.94 L122.55 95.14 L123.55 94.36 L124.55 93.59 L125.55 92.83 L126.55 92.09 L127.55 91.36 L128.55 90.64 L129.55 89.94 L130.55 89.25 L131.55 88.57 L132.56 87.90 L133.56 87.24 L134.56 86.60 L135.56 85.96 L136.56 85.34 L137.56 84.73 L138.56 84.13 L139.56 83.53 L140.56 82.95 L141.56 82.38 L142.56 81.81 L143.56 81.26 L144.56 80.71 L145.56 80.18 L146.57 79.65 L147.57 79.13 L148.57 78.62 L149.57 78.12 L150.57 77.62 L151.57 77.14 L152.57 76.66 L153.57 76.19 L154.57 75.73 L155.57 75.27 L156.57 74.82 L157.57 74.38 L158.57 73.94 L159.57 73.52 L160.57 73.09 L161.58 72.68 L162.58 72.27 L163.58 71.87 L164.58 71.47 L165.58 71.08 L166.58 70.70 L167.58 70.32 L168.58 69.95 L169.58 69.58 L170.58 69.22 L171.58 68.87 L172.58 68.52 L173.58 68.17 L174.58 67.83 L175.59 67.50 L176.59 67.17 L177.59 66.84 L178.59 66.52 L179.59 66.21 L180.59 65.90 L181.59 65.59 L182.59 65.29 L183.59 64.99 L184.59 64.70 L185.59 64.41 L186.59 64.13 L187.59 63.85 L188.59 63.57 L189.59 63.30 L190.60 63.03 L191.60 62.77 L192.60 62.51 L193.60 62.25 L194.60 62.00 L195.60 61.75 L196.60 61.51 L197.60 61.26 L198.60 61.03 L199.60 60.79 L200.60 60.56 L201.60 60.33 L202.60 60.11 L203.60 59.88 L204.61 59.66 L205.61 59.45 L206.61 59.24 L207.61 59.03 L208.61 58.82 L209.61 58.61 L210.61 58.41 L211.61 58.21 L212.61 58.02 L213.61 57.83 L214.61 57.63 L215.61 57.45 L216.61 57.26 L217.61 57.08 L218.61 56.90 L219.62 56.72 L220.62 56.55 L221.62 56.37 L222.62 56.20 L223.62 56.03 L224.62 55.87 L225.62 55.70 L226.62 55.54 L227.62 55.38 L228.62 55.22 L229.62 55.07 L230.62 54.92 L231.62 54.76 L232.62 54.61 L233.63 54.47 L234.63 54.32 L235.63 54.18 L236.63 54.04 L237.63 53.90 L238.63 53.76 L239.63 53.62 L240.63 53.49 L241.63 53.35 L242.63 53.22 L243.63 53.09 L244.63 52.97 L245.63 52.84 L246.63 52.71 L247.63 52.59 L248.64 52.47 L249.64 52.35 L250.64 52.23 L251.64 52.11 L252.64 52.00 L253.64 51.88 L254.64 51.77 L255.64 51.66 L256.64 51.55 L257.64 51.44 L258.64 51.33 L259.64 51.22 L260.64 51.12 L261.64 51.02 L262.65 50.91 L263.65 50.81 L264.65 50.71 L265.65 50.61 L266.65 50.51 L267.65 50.42 L268.65 50.32 L269.65 50.23 L270.65 50.13 L271.65 50.04 L272.65 49.95 L273.65 49.86 L274.65 49.77 L275.65 49.68 L276.65 49.60 L277.66 49.51 L278.66 49.42 L279.66 49.34 L280.66 49.26 L281.66 49.17 L282.66 49.09 L283.66 49.01 L284.66 48.93 L285.66 48.85 L286.66 48.77 L287.66 48.70 L288.66 48.62 L289.66 48.54 L290.66 48.47 L291.66 48.39 L292.67 48.32 L293.67 48.25 L294.67 48.17 L295.67 48.10 L296.67 48.03 L297.67 47.96 L298.67 47.89 L299.67 47.82 L300.67 47.76 L301.67 47.69 L302.67 47.62 L303.67 47.56 L304.67 47.49 L305.67 47.43 L306.68 47.36 L307.68 47.30 L308.68 47.24 L309.68 47.17 L310.68 47.11 L311.68 47.05 L312.68 46.99 L313.68 46.93 L314.68 46.87 L315.68 46.81 L316.68 46.75 L317.68 46.70 L318.68 46.64 L319.68 46.58 L320.68 46.53 L321.69 46.47 L322.69 46.41 L323.69 46.36 L324.69 46.30 L325.69 46.25 L326.69 46.20 L327.69 46.14 L328.69 46.09 L329.69 46.04 L330.69 45.99 L331.69 45.94 L332.69 45.88 L333.69 45.83 L334.69 45.78 L335.70 45.73 L336.70 45.68 L337.70 45.63 L338.70 45.59 L339.70 45.54 L340.70 45.49 L341.70 45.44 L342.70 45.39" stroke="#ff0080" stroke-width="2.6"/>
</g>
<g fill="#ff0080">
<circle cx="52.55" cy="242.8" r="1.55"/>
<circle cx="53.60" cy="236.2" r="1.0"/>
<circle cx="54.37" cy="232.4" r="1.35"/>
<circle cx="54.76" cy="230.5" r="1.3"/>
<circle cx="55.66" cy="225.7" r="1.1"/>
<circle cx="56.37" cy="222.3" r="1.35"/>
<circle cx="56.76" cy="220.5" r="1.35"/>
<circle cx="57.55" cy="216.4" r="1.3"/>
</g>
<g clip-path="url(#cb)" fill="none" stroke-linecap="round" stroke-linejoin="round">
<path d="M52.0 459.3 L150.0 459.2 L200.0 459.0 L250.0 458.8 L282.4 458.7 L283.4 457.6 L290.4 457.6 L291.4 458.7 L299.0 458.7 L300.5 458.5 L338.8 458.5 L339.8 457.7 L343.4 457.7" stroke="#000" stroke-width="2.3"/>
<path d="M51.50 460.00 L51.81 459.99 L52.11 459.99 L52.42 459.98 L52.50 459.98 L52.73 459.98 L53.03 459.97 L53.34 459.97 L53.50 459.96 L53.64 459.96 L53.95 459.96 L54.26 459.95 L54.50 459.95 L54.56 459.95 L54.87 459.94 L55.18 459.94 L55.48 459.94 L55.50 459.94 L55.79 459.93 L56.09 459.93 L56.40 459.93 L56.50 459.92 L56.71 459.92 L57.01 459.92 L57.32 459.92 L57.50 459.92 L57.63 459.91 L57.93 459.91 L58.24 459.91 L58.50 459.91 L58.54 459.91 L58.85 459.90 L59.16 459.90 L59.46 459.90 L59.51 459.90 L59.77 459.90 L60.08 459.89 L60.38 459.89 L60.51 459.89 L60.69 459.89 L61.00 459.89 L61.30 459.89 L61.51 459.89 L61.61 459.88 L61.91 459.88 L62.22 459.88 L62.51 459.88 L62.53 459.88 L62.83 459.88 L63.14 459.88 L63.45 459.87 L63.51 459.87 L63.75 459.87 L64.06 459.87 L64.36 459.87 L64.51 459.87 L64.67 459.87 L64.98 459.86 L65.28 459.86 L65.51 459.86 L65.59 459.86 L65.90 459.86 L66.20 459.86 L66.51 459.86 L66.51 459.86 L66.82 459.85 L67.12 459.85 L67.43 459.85 L67.51 459.85 L67.73 459.85 L68.04 459.85 L68.35 459.85 L68.51 459.84 L68.65 459.84 L68.96 459.84 L69.27 459.84 L69.51 459.84 L69.57 459.84 L69.88 459.84 L70.18 459.83 L70.49 459.83 L70.51 459.83 L70.80 459.83 L71.10 459.83 L71.41 459.83 L71.51 459.83 L71.72 459.83 L72.02 459.82 L72.33 459.82 L72.51 459.82 L72.63 459.82 L72.94 459.82 L73.25 459.82 L73.52 459.81 L73.55 459.81 L73.86 459.81 L74.17 459.81 L74.47 459.81 L74.52 459.81 L74.78 459.81 L75.09 459.80 L75.39 459.80 L75.52 459.80 L75.70 459.80 L76.00 459.80 L76.31 459.79 L76.52 459.79 L76.62 459.79 L76.92 459.79 L77.23 459.79 L77.52 459.79 L77.54 459.79 L77.84 459.78 L78.15 459.78 L78.45 459.78 L78.52 459.78 L78.76 459.78 L79.07 459.77 L79.37 459.77 L79.52 459.77 L79.68 459.77 L79.99 459.77 L80.29 459.76 L80.52 459.76 L80.60 459.76 L80.91 459.76 L81.21 459.76 L81.52 459.75 L81.52 459.75 L81.82 459.75 L82.13 459.75 L82.44 459.75 L82.52 459.75 L82.74 459.74 L83.05 459.74 L83.36 459.74 L83.52 459.74 L83.66 459.74 L83.97 459.73 L84.27 459.73 L84.52 459.73 L84.58 459.73 L84.89 459.72 L85.19 459.72 L85.50 459.72 L85.52 459.72 L85.81 459.72 L86.11 459.71 L86.42 459.71 L86.52 459.71 L86.72 459.71 L87.03 459.70 L87.34 459.70 L87.52 459.70 L87.64 459.70 L87.95 459.69 L88.53 459.69 L89.53 459.68 L90.53 459.67 L91.53 459.66 L92.53 459.64 L93.53 459.63 L94.53 459.62 L95.53 459.61 L96.53 459.60 L97.53 459.58 L98.53 459.57 L99.53 459.56 L100.53 459.55 L101.53 459.53 L102.54 459.52 L103.54 459.50 L104.54 459.49 L105.54 459.48 L106.54 459.46 L107.54 459.45 L108.54 459.43 L109.54 459.42 L110.54 459.40 L111.54 459.38 L112.54 459.37 L113.54 459.35 L114.54 459.33 L115.54 459.32 L116.54 459.30 L117.55 459.28 L118.55 459.27 L119.55 459.25 L120.55 459.23 L121.55 459.21 L122.55 459.19 L123.55 459.17 L124.55 459.16 L125.55 459.14 L126.55 459.12 L127.55 459.10 L128.55 459.08 L129.55 459.06 L130.55 459.04 L131.55 459.02 L132.56 459.00 L133.56 458.98 L134.56 458.96 L135.56 458.93 L136.56 458.91 L137.56 458.89 L138.56 458.87 L139.56 458.85 L140.56 458.83 L141.56 458.80 L142.56 458.78 L143.56 458.76 L144.56 458.73 L145.56 458.71 L146.57 458.69 L147.57 458.66 L148.57 458.64 L149.57 458.62 L150.57 458.59 L151.57 458.57 L152.57 458.55 L153.57 458.52 L154.57 458.50 L155.57 458.47 L156.57 458.45 L157.57 458.42 L158.57 458.40 L159.57 458.37 L160.57 458.34 L161.58 458.32 L162.58 458.29 L163.58 458.27 L164.58 458.24 L165.58 458.21 L166.58 458.19 L167.58 458.16 L168.58 458.13 L169.58 458.11 L170.58 458.08 L171.58 458.05 L172.58 458.03 L173.58 458.00 L174.58 457.97 L175.59 457.94 L176.59 457.92 L177.59 457.89 L178.59 457.86 L179.59 457.83 L180.59 457.80 L181.59 457.77 L182.59 457.75 L183.59 457.72 L184.59 457.69 L185.59 457.66 L186.59 457.63 L187.59 457.60 L188.59 457.57 L189.59 457.54 L190.60 457.51 L191.60 457.48 L192.60 457.45 L193.60 457.42 L194.60 457.39 L195.60 457.36 L196.60 457.33 L197.60 457.30 L198.60 457.27 L199.60 457.24 L200.60 457.21 L201.60 457.18 L202.60 457.15 L203.60 457.12 L204.61 457.09 L205.61 457.06 L206.61 457.03 L207.61 457.00 L208.61 456.97 L209.61 456.93 L210.61 456.90 L211.61 456.87 L212.61 456.84 L213.61 456.81 L214.61 456.78 L215.61 456.75 L216.61 456.71 L217.61 456.68 L218.61 456.65 L219.62 456.62 L220.62 456.59 L221.62 456.55 L222.62 456.52 L223.62 456.49 L224.62 456.46 L225.62 456.43 L226.62 456.39 L227.62 456.36 L228.62 456.33 L229.62 456.30 L230.62 456.26 L231.62 456.23 L232.62 456.20 L233.63 456.17 L234.63 456.13 L235.63 456.10 L236.63 456.07 L237.63 456.04 L238.63 456.00 L239.63 455.97 L240.63 455.94 L241.63 455.90 L242.63 455.87 L243.63 455.84 L244.63 455.81 L245.63 455.77 L246.63 455.74 L247.63 455.71 L248.64 455.67 L249.64 455.64 L250.64 455.61 L251.64 455.57 L252.64 455.54 L253.64 455.51 L254.64 455.47 L255.64 455.44 L256.64 455.41 L257.64 455.37 L258.64 455.34 L259.64 455.31 L260.64 455.27 L261.64 455.24 L262.65 455.21 L263.65 455.17 L264.65 455.14 L265.65 455.11 L266.65 455.07 L267.65 455.04 L268.65 455.01 L269.65 454.97 L270.65 454.94 L271.65 454.91 L272.65 454.87 L273.65 454.84 L274.65 454.81 L275.65 454.77 L276.65 454.74 L277.66 454.71 L278.66 454.67 L279.66 454.64 L280.66 454.61 L281.66 454.57 L282.66 454.54 L283.66 454.51 L284.66 454.47 L285.66 454.44 L286.66 454.41 L287.66 454.37 L288.66 454.34 L289.66 454.31 L290.66 454.27 L291.66 454.24 L292.67 454.21 L293.67 454.17 L294.67 454.14 L295.67 454.11 L296.67 454.07 L297.67 454.04 L298.67 454.01 L299.67 453.98 L300.67 453.94 L301.67 453.91 L302.67 453.88 L303.67 453.84 L304.67 453.81 L305.67 453.78 L306.68 453.74 L307.68 453.71 L308.68 453.68 L309.68 453.65 L310.68 453.61 L311.68 453.58 L312.68 453.55 L313.68 453.51 L314.68 453.48 L315.68 453.45 L316.68 453.42 L317.68 453.38 L318.68 453.35 L319.68 453.32 L320.68 453.29 L321.69 453.25 L322.69 453.22 L323.69 453.19 L324.69 453.16 L325.69 453.12 L326.69 453.09 L327.69 453.06 L328.69 453.03 L329.69 452.99 L330.69 452.96 L331.69 452.93 L332.69 452.90 L333.69 452.87 L334.69 452.83 L335.70 452.80 L336.70 452.77 L337.70 452.74 L338.70 452.71 L339.70 452.67 L340.70 452.64 L341.70 452.61 L342.70 452.58" stroke="#ff0000" stroke-width="2.5"/>
<path d="M51.50 460.00 L51.81 459.96 L52.11 459.92 L52.42 459.89 L52.50 459.88 L52.73 459.85 L53.03 459.82 L53.34 459.79 L53.50 459.77 L53.64 459.76 L53.95 459.73 L54.26 459.70 L54.50 459.68 L54.56 459.67 L54.87 459.65 L55.18 459.62 L55.48 459.60 L55.50 459.59 L55.79 459.57 L56.09 459.55 L56.40 459.52 L56.50 459.52 L56.71 459.50 L57.01 459.48 L57.32 459.46 L57.50 459.44 L57.63 459.44 L57.93 459.41 L58.24 459.39 L58.50 459.38 L58.54 459.37 L58.85 459.35 L59.16 459.33 L59.46 459.31 L59.51 459.31 L59.77 459.29 L60.08 459.27 L60.38 459.25 L60.51 459.24 L60.69 459.23 L61.00 459.21 L61.30 459.19 L61.51 459.18 L61.61 459.17 L61.91 459.15 L62.22 459.13 L62.51 459.11 L62.53 459.11 L62.83 459.09 L63.14 459.07 L63.45 459.05 L63.51 459.04 L63.75 459.03 L64.06 459.01 L64.36 458.99 L64.51 458.98 L64.67 458.96 L64.98 458.94 L65.28 458.92 L65.51 458.90 L65.59 458.90 L65.90 458.88 L66.20 458.85 L66.51 458.83 L66.51 458.83 L66.82 458.81 L67.12 458.79 L67.43 458.76 L67.51 458.76 L67.73 458.74 L68.04 458.71 L68.35 458.69 L68.51 458.68 L68.65 458.67 L68.96 458.64 L69.27 458.62 L69.51 458.60 L69.57 458.59 L69.88 458.56 L70.18 458.54 L70.49 458.51 L70.51 458.51 L70.80 458.49 L71.10 458.46 L71.41 458.43 L71.51 458.42 L71.72 458.40 L72.02 458.38 L72.33 458.35 L72.51 458.33 L72.63 458.32 L72.94 458.29 L73.25 458.26 L73.52 458.24 L73.55 458.23 L73.86 458.20 L74.17 458.17 L74.47 458.14 L74.52 458.14 L74.78 458.11 L75.09 458.08 L75.39 458.05 L75.52 458.04 L75.70 458.02 L76.00 457.99 L76.31 457.96 L76.52 457.93 L76.62 457.92 L76.92 457.89 L77.23 457.86 L77.52 457.83 L77.54 457.82 L77.84 457.79 L78.15 457.76 L78.45 457.72 L78.52 457.72 L78.76 457.69 L79.07 457.65 L79.37 457.62 L79.52 457.60 L79.68 457.58 L79.99 457.55 L80.29 457.51 L80.52 457.48 L80.60 457.47 L80.91 457.44 L81.21 457.40 L81.52 457.36 L81.52 457.36 L81.82 457.33 L82.13 457.29 L82.44 457.25 L82.52 457.24 L82.74 457.21 L83.05 457.17 L83.36 457.13 L83.52 457.11 L83.66 457.10 L83.97 457.06 L84.27 457.02 L84.52 456.98 L84.58 456.98 L84.89 456.94 L85.19 456.90 L85.50 456.85 L85.52 456.85 L85.81 456.81 L86.11 456.77 L86.42 456.73 L86.52 456.72 L86.72 456.69 L87.03 456.65 L87.34 456.60 L87.52 456.58 L87.64 456.56 L87.95 456.52 L88.53 456.44 L89.53 456.29 L90.53 456.15 L91.53 456.00 L92.53 455.85 L93.53 455.70 L94.53 455.54 L95.53 455.38 L96.53 455.22 L97.53 455.06 L98.53 454.90 L99.53 454.73 L100.53 454.57 L101.53 454.40 L102.54 454.23 L103.54 454.06 L104.54 453.88 L105.54 453.71 L106.54 453.53 L107.54 453.35 L108.54 453.17 L109.54 452.99 L110.54 452.81 L111.54 452.63 L112.54 452.44 L113.54 452.26 L114.54 452.07 L115.54 451.88 L116.54 451.70 L117.55 451.51 L118.55 451.32 L119.55 451.13 L120.55 450.94 L121.55 450.75 L122.55 450.55 L123.55 450.36 L124.55 450.17 L125.55 449.97 L126.55 449.78 L127.55 449.59 L128.55 449.39 L129.55 449.20 L130.55 449.00 L131.55 448.80 L132.56 448.61 L133.56 448.41 L134.56 448.22 L135.56 448.02 L136.56 447.83 L137.56 447.63 L138.56 447.43 L139.56 447.24 L140.56 447.04 L141.56 446.84 L142.56 446.65 L143.56 446.45 L144.56 446.26 L145.56 446.06 L146.57 445.86 L147.57 445.67 L148.57 445.47 L149.57 445.28 L150.57 445.08 L151.57 444.89 L152.57 444.70 L153.57 444.50 L154.57 444.31 L155.57 444.12 L156.57 443.92 L157.57 443.73 L158.57 443.54 L159.57 443.35 L160.57 443.15 L161.58 442.96 L162.58 442.77 L163.58 442.58 L164.58 442.39 L165.58 442.20 L166.58 442.01 L167.58 441.83 L168.58 441.64 L169.58 441.45 L170.58 441.26 L171.58 441.08 L172.58 440.89 L173.58 440.71 L174.58 440.52 L175.59 440.34 L176.59 440.15 L177.59 439.97 L178.59 439.79 L179.59 439.60 L180.59 439.42 L181.59 439.24 L182.59 439.06 L183.59 438.88 L184.59 438.70 L185.59 438.52 L186.59 438.34 L187.59 438.16 L188.59 437.99 L189.59 437.81 L190.60 437.63 L191.60 437.46 L192.60 437.28 L193.60 437.11 L194.60 436.94 L195.60 436.76 L196.60 436.59 L197.60 436.42 L198.60 436.25 L199.60 436.07 L200.60 435.90 L201.60 435.73 L202.60 435.56 L203.60 435.40 L204.61 435.23 L205.61 435.06 L206.61 434.89 L207.61 434.73 L208.61 434.56 L209.61 434.40 L210.61 434.23 L211.61 434.07 L212.61 433.90 L213.61 433.74 L214.61 433.58 L215.61 433.42 L216.61 433.25 L217.61 433.09 L218.61 432.93 L219.62 432.77 L220.62 432.61 L221.62 432.46 L222.62 432.30 L223.62 432.14 L224.62 431.98 L225.62 431.83 L226.62 431.67 L227.62 431.52 L228.62 431.36 L229.62 431.21 L230.62 431.05 L231.62 430.90 L232.62 430.75 L233.63 430.59 L234.63 430.44 L235.63 430.29 L236.63 430.14 L237.63 429.99 L238.63 429.84 L239.63 429.69 L240.63 429.54 L241.63 429.40 L242.63 429.25 L243.63 429.10 L244.63 428.95 L245.63 428.81 L246.63 428.66 L247.63 428.52 L248.64 428.37 L249.64 428.23 L250.64 428.08 L251.64 427.94 L252.64 427.80 L253.64 427.66 L254.64 427.51 L255.64 427.37 L256.64 427.23 L257.64 427.09 L258.64 426.95 L259.64 426.81 L260.64 426.67 L261.64 426.53 L262.65 426.40 L263.65 426.26 L264.65 426.12 L265.65 425.98 L266.65 425.85 L267.65 425.71 L268.65 425.58 L269.65 425.44 L270.65 425.31 L271.65 425.17 L272.65 425.04 L273.65 424.90 L274.65 424.77 L275.65 424.64 L276.65 424.50 L277.66 424.37 L278.66 424.24 L279.66 424.11 L280.66 423.98 L281.66 423.85 L282.66 423.72 L283.66 423.59 L284.66 423.46 L285.66 423.33 L286.66 423.20 L287.66 423.07 L288.66 422.95 L289.66 422.82 L290.66 422.69 L291.66 422.56 L292.67 422.44 L293.67 422.31 L294.67 422.19 L295.67 422.06 L296.67 421.94 L297.67 421.81 L298.67 421.69 L299.67 421.56 L300.67 421.44 L301.67 421.32 L302.67 421.19 L303.67 421.07 L304.67 420.95 L305.67 420.83 L306.68 420.70 L307.68 420.58 L308.68 420.46 L309.68 420.34 L310.68 420.22 L311.68 420.10 L312.68 419.98 L313.68 419.86 L314.68 419.74 L315.68 419.62 L316.68 419.50 L317.68 419.39 L318.68 419.27 L319.68 419.15 L320.68 419.03 L321.69 418.91 L322.69 418.80 L323.69 418.68 L324.69 418.56 L325.69 418.45 L326.69 418.33 L327.69 418.22 L328.69 418.10 L329.69 417.99 L330.69 417.87 L331.69 417.76 L332.69 417.64 L333.69 417.53 L334.69 417.42 L335.70 417.30 L336.70 417.19 L337.70 417.08 L338.70 416.96 L339.70 416.85 L340.70 416.74 L341.70 416.63 L342.70 416.52" stroke="#0000ff" stroke-width="2.45"/>
<path d="M51.50 460.00 L51.81 459.99 L52.11 459.99 L52.42 459.98 L52.50 459.98 L52.73 459.97 L53.03 459.96 L53.34 459.95 L53.50 459.95 L53.64 459.94 L53.95 459.93 L54.26 459.92 L54.50 459.91 L54.56 459.91 L54.87 459.89 L55.18 459.88 L55.48 459.86 L55.50 459.86 L55.79 459.84 L56.09 459.82 L56.40 459.81 L56.50 459.80 L56.71 459.79 L57.01 459.76 L57.32 459.74 L57.50 459.73 L57.63 459.72 L57.93 459.70 L58.24 459.67 L58.50 459.65 L58.54 459.64 L58.85 459.62 L59.16 459.59 L59.46 459.56 L59.51 459.56 L59.77 459.53 L60.08 459.50 L60.38 459.47 L60.51 459.46 L60.69 459.44 L61.00 459.40 L61.30 459.37 L61.51 459.34 L61.61 459.33 L61.91 459.30 L62.22 459.26 L62.51 459.22 L62.53 459.22 L62.83 459.18 L63.14 459.14 L63.45 459.10 L63.51 459.09 L63.75 459.06 L64.06 459.02 L64.36 458.97 L64.51 458.95 L64.67 458.93 L64.98 458.88 L65.28 458.84 L65.51 458.80 L65.59 458.79 L65.90 458.74 L66.20 458.69 L66.51 458.64 L66.51 458.64 L66.82 458.59 L67.12 458.54 L67.43 458.49 L67.51 458.47 L67.73 458.43 L68.04 458.38 L68.35 458.32 L68.51 458.29 L68.65 458.27 L68.96 458.21 L69.27 458.16 L69.51 458.11 L69.57 458.10 L69.88 458.04 L70.18 457.98 L70.49 457.92 L70.51 457.91 L70.80 457.86 L71.10 457.80 L71.41 457.73 L71.51 457.71 L71.72 457.67 L72.02 457.61 L72.33 457.54 L72.51 457.50 L72.63 457.48 L72.94 457.41 L73.25 457.35 L73.52 457.29 L73.55 457.28 L73.86 457.21 L74.17 457.14 L74.47 457.07 L74.52 457.06 L74.78 457.00 L75.09 456.93 L75.39 456.86 L75.52 456.83 L75.70 456.79 L76.00 456.72 L76.31 456.65 L76.52 456.60 L76.62 456.57 L76.92 456.50 L77.23 456.42 L77.52 456.35 L77.54 456.35 L77.84 456.27 L78.15 456.20 L78.45 456.12 L78.52 456.11 L78.76 456.04 L79.07 455.97 L79.37 455.89 L79.52 455.85 L79.68 455.81 L79.99 455.73 L80.29 455.65 L80.52 455.59 L80.60 455.57 L80.91 455.49 L81.21 455.41 L81.52 455.33 L81.52 455.33 L81.82 455.25 L82.13 455.17 L82.44 455.08 L82.52 455.06 L82.74 455.00 L83.05 454.92 L83.36 454.83 L83.52 454.79 L83.66 454.75 L83.97 454.67 L84.27 454.58 L84.52 454.51 L84.58 454.50 L84.89 454.41 L85.19 454.33 L85.50 454.24 L85.52 454.23 L85.81 454.15 L86.11 454.07 L86.42 453.98 L86.52 453.95 L86.72 453.89 L87.03 453.80 L87.34 453.72 L87.52 453.66 L87.64 453.63 L87.95 453.54 L88.53 453.37 L89.53 453.08 L90.53 452.78 L91.53 452.48 L92.53 452.18 L93.53 451.88 L94.53 451.58 L95.53 451.27 L96.53 450.96 L97.53 450.65 L98.53 450.34 L99.53 450.03 L100.53 449.72 L101.53 449.41 L102.54 449.09 L103.54 448.77 L104.54 448.46 L105.54 448.14 L106.54 447.82 L107.54 447.51 L108.54 447.19 L109.54 446.87 L110.54 446.55 L111.54 446.23 L112.54 445.92 L113.54 445.60 L114.54 445.28 L115.54 444.96 L116.54 444.64 L117.55 444.32 L118.55 444.01 L119.55 443.69 L120.55 443.37 L121.55 443.05 L122.55 442.74 L123.55 442.42 L124.55 442.11 L125.55 441.79 L126.55 441.48 L127.55 441.16 L128.55 440.85 L129.55 440.54 L130.55 440.22 L131.55 439.91 L132.56 439.60 L133.56 439.29 L134.56 438.98 L135.56 438.67 L136.56 438.37 L137.56 438.06 L138.56 437.75 L139.56 437.45 L140.56 437.14 L141.56 436.84 L142.56 436.53 L143.56 436.23 L144.56 435.93 L145.56 435.63 L146.57 435.33 L147.57 435.03 L148.57 434.73 L149.57 434.43 L150.57 434.13 L151.57 433.84 L152.57 433.54 L153.57 433.25 L154.57 432.96 L155.57 432.66 L156.57 432.37 L157.57 432.08 L158.57 431.79 L159.57 431.51 L160.57 431.22 L161.58 430.93 L162.58 430.65 L163.58 430.36 L164.58 430.08 L165.58 429.80 L166.58 429.51 L167.58 429.23 L168.58 428.95 L169.58 428.68 L170.58 428.40 L171.58 428.12 L172.58 427.85 L173.58 427.57 L174.58 427.30 L175.59 427.03 L176.59 426.75 L177.59 426.48 L178.59 426.21 L179.59 425.95 L180.59 425.68 L181.59 425.41 L182.59 425.15 L183.59 424.88 L184.59 424.62 L185.59 424.36 L186.59 424.10 L187.59 423.84 L188.59 423.58 L189.59 423.32 L190.60 423.06 L191.60 422.81 L192.60 422.55 L193.60 422.30 L194.60 422.04 L195.60 421.79 L196.60 421.54 L197.60 421.29 L198.60 421.04 L199.60 420.79 L200.60 420.55 L201.60 420.30 L202.60 420.06 L203.60 419.81 L204.61 419.57 L205.61 419.33 L206.61 419.09 L207.61 418.85 L208.61 418.61 L209.61 418.37 L210.61 418.14 L211.61 417.90 L212.61 417.67 L213.61 417.43 L214.61 417.20 L215.61 416.97 L216.61 416.74 L217.61 416.51 L218.61 416.28 L219.62 416.05 L220.62 415.83 L221.62 415.60 L222.62 415.38 L223.62 415.15 L224.62 414.93 L225.62 414.71 L226.62 414.49 L227.62 414.27 L228.62 414.05 L229.62 413.83 L230.62 413.62 L231.62 413.40 L232.62 413.19 L233.63 412.97 L234.63 412.76 L235.63 412.55 L236.63 412.34 L237.63 412.13 L238.63 411.92 L239.63 411.71 L240.63 411.50 L241.63 411.30 L242.63 411.09 L243.63 410.89 L244.63 410.68 L245.63 410.48 L246.63 410.28 L247.63 410.08 L248.64 409.88 L249.64 409.68 L250.64 409.48 L251.64 409.29 L252.64 409.09 L253.64 408.89 L254.64 408.70 L255.64 408.51 L256.64 408.31 L257.64 408.12 L258.64 407.93 L259.64 407.74 L260.64 407.55 L261.64 407.36 L262.65 407.18 L263.65 406.99 L264.65 406.80 L265.65 406.62 L266.65 406.44 L267.65 406.25 L268.65 406.07 L269.65 405.89 L270.65 405.71 L271.65 405.53 L272.65 405.35 L273.65 405.17 L274.65 404.99 L275.65 404.82 L276.65 404.64 L277.66 404.47 L278.66 404.29 L279.66 404.12 L280.66 403.95 L281.66 403.78 L282.66 403.61 L283.66 403.44 L284.66 403.27 L285.66 403.10 L286.66 402.93 L287.66 402.76 L288.66 402.60 L289.66 402.43 L290.66 402.27 L291.66 402.10 L292.67 401.94 L293.67 401.78 L294.67 401.61 L295.67 401.45 L296.67 401.29 L297.67 401.13 L298.67 400.97 L299.67 400.82 L300.67 400.66 L301.67 400.50 L302.67 400.35 L303.67 400.19 L304.67 400.04 L305.67 399.88 L306.68 399.73 L307.68 399.58 L308.68 399.43 L309.68 399.28 L310.68 399.12 L311.68 398.98 L312.68 398.83 L313.68 398.68 L314.68 398.53 L315.68 398.38 L316.68 398.24 L317.68 398.09 L318.68 397.95 L319.68 397.80 L320.68 397.66 L321.69 397.51 L322.69 397.37 L323.69 397.23 L324.69 397.09 L325.69 396.95 L326.69 396.81 L327.69 396.67 L328.69 396.53 L329.69 396.39 L330.69 396.26 L331.69 396.12 L332.69 395.98 L333.69 395.85 L334.69 395.71 L335.70 395.58 L336.70 395.44 L337.70 395.31 L338.70 395.18 L339.70 395.05 L340.70 394.91 L341.70 394.78 L342.70 394.65" stroke="#ff8000" stroke-width="2.4"/>
<path d="M51.50 460.00 L51.81 459.95 L52.11 459.90 L52.42 459.85 L52.50 459.83 L52.73 459.80 L53.03 459.74 L53.34 459.69 L53.50 459.67 L53.64 459.64 L53.95 459.59 L54.26 459.54 L54.50 459.49 L54.56 459.48 L54.87 459.43 L55.18 459.37 L55.48 459.31 L55.50 459.31 L55.79 459.26 L56.09 459.20 L56.40 459.14 L56.50 459.12 L56.71 459.08 L57.01 459.02 L57.32 458.95 L57.50 458.91 L57.63 458.89 L57.93 458.82 L58.24 458.75 L58.50 458.69 L58.54 458.68 L58.85 458.61 L59.16 458.54 L59.46 458.46 L59.51 458.45 L59.77 458.39 L60.08 458.31 L60.38 458.23 L60.51 458.20 L60.69 458.15 L61.00 458.07 L61.30 457.98 L61.51 457.93 L61.61 457.90 L61.91 457.81 L62.22 457.72 L62.51 457.64 L62.53 457.63 L62.83 457.54 L63.14 457.44 L63.45 457.35 L63.51 457.33 L63.75 457.25 L64.06 457.15 L64.36 457.05 L64.51 457.00 L64.67 456.94 L64.98 456.84 L65.28 456.73 L65.51 456.65 L65.59 456.62 L65.90 456.51 L66.20 456.40 L66.51 456.29 L66.51 456.29 L66.82 456.17 L67.12 456.05 L67.43 455.94 L67.51 455.90 L67.73 455.82 L68.04 455.69 L68.35 455.57 L68.51 455.50 L68.65 455.45 L68.96 455.32 L69.27 455.19 L69.51 455.09 L69.57 455.06 L69.88 454.93 L70.18 454.80 L70.49 454.66 L70.51 454.65 L70.80 454.53 L71.10 454.39 L71.41 454.25 L71.51 454.20 L71.72 454.11 L72.02 453.97 L72.33 453.83 L72.51 453.74 L72.63 453.68 L72.94 453.54 L73.25 453.39 L73.52 453.26 L73.55 453.24 L73.86 453.09 L74.17 452.94 L74.47 452.79 L74.52 452.77 L74.78 452.64 L75.09 452.48 L75.39 452.32 L75.52 452.26 L75.70 452.17 L76.00 452.01 L76.31 451.85 L76.52 451.74 L76.62 451.69 L76.92 451.53 L77.23 451.37 L77.52 451.21 L77.54 451.20 L77.84 451.04 L78.15 450.87 L78.45 450.71 L78.52 450.67 L78.76 450.54 L79.07 450.37 L79.37 450.20 L79.52 450.12 L79.68 450.03 L79.99 449.86 L80.29 449.69 L80.52 449.56 L80.60 449.52 L80.91 449.35 L81.21 449.17 L81.52 449.00 L81.52 448.99 L81.82 448.82 L82.13 448.64 L82.44 448.47 L82.52 448.42 L82.74 448.29 L83.05 448.11 L83.36 447.93 L83.52 447.83 L83.66 447.75 L83.97 447.57 L84.27 447.39 L84.52 447.24 L84.58 447.21 L84.89 447.03 L85.19 446.84 L85.50 446.66 L85.52 446.64 L85.81 446.47 L86.11 446.29 L86.42 446.11 L86.52 446.04 L86.72 445.92 L87.03 445.73 L87.34 445.55 L87.52 445.43 L87.64 445.36 L87.95 445.17 L88.53 444.82 L89.53 444.20 L90.53 443.58 L91.53 442.96 L92.53 442.33 L93.53 441.70 L94.53 441.07 L95.53 440.44 L96.53 439.81 L97.53 439.17 L98.53 438.54 L99.53 437.90 L100.53 437.27 L101.53 436.63 L102.54 436.00 L103.54 435.36 L104.54 434.73 L105.54 434.10 L106.54 433.46 L107.54 432.83 L108.54 432.21 L109.54 431.58 L110.54 430.95 L111.54 430.33 L112.54 429.71 L113.54 429.09 L114.54 428.47 L115.54 427.86 L116.54 427.24 L117.55 426.63 L118.55 426.02 L119.55 425.42 L120.55 424.82 L121.55 424.21 L122.55 423.62 L123.55 423.02 L124.55 422.43 L125.55 421.84 L126.55 421.25 L127.55 420.67 L128.55 420.08 L129.55 419.50 L130.55 418.93 L131.55 418.35 L132.56 417.78 L133.56 417.21 L134.56 416.65 L135.56 416.09 L136.56 415.53 L137.56 414.97 L138.56 414.42 L139.56 413.86 L140.56 413.32 L141.56 412.77 L142.56 412.23 L143.56 411.69 L144.56 411.15 L145.56 410.62 L146.57 410.08 L147.57 409.56 L148.57 409.03 L149.57 408.51 L150.57 407.99 L151.57 407.47 L152.57 406.95 L153.57 406.44 L154.57 405.93 L155.57 405.42 L156.57 404.92 L157.57 404.42 L158.57 403.92 L159.57 403.42 L160.57 402.93 L161.58 402.44 L162.58 401.95 L163.58 401.47 L164.58 400.98 L165.58 400.50 L166.58 400.03 L167.58 399.55 L168.58 399.08 L169.58 398.61 L170.58 398.14 L171.58 397.68 L172.58 397.21 L173.58 396.75 L174.58 396.30 L175.59 395.84 L176.59 395.39 L177.59 394.94 L178.59 394.49 L179.59 394.05 L180.59 393.61 L181.59 393.17 L182.59 392.73 L183.59 392.30 L184.59 391.86 L185.59 391.43 L186.59 391.01 L187.59 390.58 L188.59 390.16 L189.59 389.74 L190.60 389.32 L191.60 388.90 L192.60 388.49 L193.60 388.08 L194.60 387.67 L195.60 387.26 L196.60 386.86 L197.60 386.46 L198.60 386.06 L199.60 385.66 L200.60 385.26 L201.60 384.87 L202.60 384.48 L203.60 384.09 L204.61 383.71 L205.61 383.32 L206.61 382.94 L207.61 382.56 L208.61 382.18 L209.61 381.81 L210.61 381.43 L211.61 381.06 L212.61 380.69 L213.61 380.32 L214.61 379.96 L215.61 379.60 L216.61 379.24 L217.61 378.88 L218.61 378.52 L219.62 378.17 L220.62 377.81 L221.62 377.46 L222.62 377.11 L223.62 376.77 L224.62 376.42 L225.62 376.08 L226.62 375.74 L227.62 375.40 L228.62 375.06 L229.62 374.73 L230.62 374.40 L231.62 374.06 L232.62 373.73 L233.63 373.41 L234.63 373.08 L235.63 372.76 L236.63 372.44 L237.63 372.12 L238.63 371.80 L239.63 371.48 L240.63 371.17 L241.63 370.86 L242.63 370.55 L243.63 370.24 L244.63 369.93 L245.63 369.62 L246.63 369.32 L247.63 369.02 L248.64 368.72 L249.64 368.42 L250.64 368.12 L251.64 367.83 L252.64 367.53 L253.64 367.24 L254.64 366.95 L255.64 366.66 L256.64 366.38 L257.64 366.09 L258.64 365.81 L259.64 365.53 L260.64 365.25 L261.64 364.97 L262.65 364.69 L263.65 364.42 L264.65 364.14 L265.65 363.87 L266.65 363.60 L267.65 363.33 L268.65 363.07 L269.65 362.80 L270.65 362.54 L271.65 362.27 L272.65 362.01 L273.65 361.75 L274.65 361.50 L275.65 361.24 L276.65 360.98 L277.66 360.73 L278.66 360.48 L279.66 360.23 L280.66 359.98 L281.66 359.73 L282.66 359.48 L283.66 359.24 L284.66 358.99 L285.66 358.75 L286.66 358.51 L287.66 358.27 L288.66 358.03 L289.66 357.80 L290.66 357.56 L291.66 357.33 L292.67 357.10 L293.67 356.86 L294.67 356.63 L295.67 356.41 L296.67 356.18 L297.67 355.95 L298.67 355.73 L299.67 355.50 L300.67 355.28 L301.67 355.06 L302.67 354.84 L303.67 354.62 L304.67 354.41 L305.67 354.19 L306.68 353.98 L307.68 353.76 L308.68 353.55 L309.68 353.34 L310.68 353.13 L311.68 352.92 L312.68 352.72 L313.68 352.51 L314.68 352.31 L315.68 352.10 L316.68 351.90 L317.68 351.70 L318.68 351.50 L319.68 351.30 L320.68 351.10 L321.69 350.90 L322.69 350.71 L323.69 350.51 L324.69 350.32 L325.69 350.13 L326.69 349.94 L327.69 349.75 L328.69 349.56 L329.69 349.37 L330.69 349.18 L331.69 349.00 L332.69 348.81 L333.69 348.63 L334.69 348.45 L335.70 348.26 L336.70 348.08 L337.70 347.90 L338.70 347.73 L339.70 347.55 L340.70 347.37 L341.70 347.20 L342.70 347.02" stroke="#008000" stroke-width="2.35"/>
<path d="M51.50 460.00 L51.81 460.00 L52.11 459.99 L52.42 459.97 L52.50 459.96 L52.73 459.94 L53.03 459.91 L53.34 459.87 L53.50 459.84 L53.64 459.82 L53.95 459.77 L54.26 459.70 L54.50 459.65 L54.56 459.64 L54.87 459.56 L55.18 459.48 L55.48 459.39 L55.50 459.38 L55.79 459.30 L56.09 459.19 L56.40 459.09 L56.50 459.05 L56.71 458.97 L57.01 458.85 L57.32 458.73 L57.50 458.65 L57.63 458.60 L57.93 458.46 L58.24 458.32 L58.50 458.19 L58.54 458.17 L58.85 458.02 L59.16 457.86 L59.46 457.70 L59.51 457.67 L59.77 457.53 L60.08 457.36 L60.38 457.18 L60.51 457.11 L60.69 457.00 L61.00 456.82 L61.30 456.63 L61.51 456.50 L61.61 456.43 L61.91 456.24 L62.22 456.04 L62.51 455.85 L62.53 455.84 L62.83 455.63 L63.14 455.42 L63.45 455.21 L63.51 455.16 L63.75 454.99 L64.06 454.78 L64.36 454.55 L64.51 454.45 L64.67 454.33 L64.98 454.11 L65.28 453.88 L65.51 453.71 L65.59 453.65 L65.90 453.41 L66.20 453.18 L66.51 452.94 L66.51 452.94 L66.82 452.70 L67.12 452.46 L67.43 452.22 L67.51 452.15 L67.73 451.97 L68.04 451.73 L68.35 451.48 L68.51 451.35 L68.65 451.23 L68.96 450.98 L69.27 450.73 L69.51 450.52 L69.57 450.47 L69.88 450.22 L70.18 449.96 L70.49 449.70 L70.51 449.68 L70.80 449.44 L71.10 449.18 L71.41 448.92 L71.51 448.83 L71.72 448.66 L72.02 448.39 L72.33 448.13 L72.51 447.97 L72.63 447.86 L72.94 447.60 L73.25 447.33 L73.52 447.09 L73.55 447.06 L73.86 446.79 L74.17 446.52 L74.47 446.25 L74.52 446.21 L74.78 445.98 L75.09 445.70 L75.39 445.43 L75.52 445.32 L75.70 445.15 L76.00 444.88 L76.31 444.60 L76.52 444.42 L76.62 444.33 L76.92 444.05 L77.23 443.77 L77.52 443.51 L77.54 443.49 L77.84 443.21 L78.15 442.93 L78.45 442.65 L78.52 442.59 L78.76 442.37 L79.07 442.08 L79.37 441.80 L79.52 441.67 L79.68 441.52 L79.99 441.23 L80.29 440.95 L80.52 440.74 L80.60 440.66 L80.91 440.38 L81.21 440.09 L81.52 439.81 L81.52 439.80 L81.82 439.52 L82.13 439.23 L82.44 438.94 L82.52 438.86 L82.74 438.65 L83.05 438.36 L83.36 438.07 L83.52 437.92 L83.66 437.78 L83.97 437.49 L84.27 437.20 L84.52 436.97 L84.58 436.91 L84.89 436.62 L85.19 436.33 L85.50 436.04 L85.52 436.01 L85.81 435.74 L86.11 435.45 L86.42 435.16 L86.52 435.06 L86.72 434.86 L87.03 434.57 L87.34 434.27 L87.52 434.09 L87.64 433.98 L87.95 433.68 L88.53 433.13 L89.53 432.16 L90.53 431.19 L91.53 430.22 L92.53 429.25 L93.53 428.27 L94.53 427.29 L95.53 426.32 L96.53 425.34 L97.53 424.36 L98.53 423.38 L99.53 422.40 L100.53 421.43 L101.53 420.45 L102.54 419.48 L103.54 418.50 L104.54 417.53 L105.54 416.56 L106.54 415.59 L107.54 414.62 L108.54 413.66 L109.54 412.70 L110.54 411.74 L111.54 410.78 L112.54 409.83 L113.54 408.88 L114.54 407.94 L115.54 406.99 L116.54 406.05 L117.55 405.12 L118.55 404.19 L119.55 403.26 L120.55 402.34 L121.55 401.42 L122.55 400.50 L123.55 399.59 L124.55 398.69 L125.55 397.79 L126.55 396.89 L127.55 396.00 L128.55 395.11 L129.55 394.23 L130.55 393.35 L131.55 392.48 L132.56 391.61 L133.56 390.75 L134.56 389.89 L135.56 389.04 L136.56 388.19 L137.56 387.35 L138.56 386.51 L139.56 385.68 L140.56 384.85 L141.56 384.03 L142.56 383.21 L143.56 382.40 L144.56 381.59 L145.56 380.79 L146.57 380.00 L147.57 379.20 L148.57 378.42 L149.57 377.64 L150.57 376.86 L151.57 376.09 L152.57 375.32 L153.57 374.56 L154.57 373.81 L155.57 373.06 L156.57 372.31 L157.57 371.57 L158.57 370.83 L159.57 370.10 L160.57 369.37 L161.58 368.65 L162.58 367.94 L163.58 367.23 L164.58 366.52 L165.58 365.82 L166.58 365.12 L167.58 364.43 L168.58 363.74 L169.58 363.06 L170.58 362.38 L171.58 361.70 L172.58 361.03 L173.58 360.37 L174.58 359.71 L175.59 359.05 L176.59 358.40 L177.59 357.76 L178.59 357.11 L179.59 356.48 L180.59 355.84 L181.59 355.21 L182.59 354.59 L183.59 353.97 L184.59 353.35 L185.59 352.74 L186.59 352.13 L187.59 351.53 L188.59 350.93 L189.59 350.34 L190.60 349.75 L191.60 349.16 L192.60 348.57 L193.60 348.00 L194.60 347.42 L195.60 346.85 L196.60 346.28 L197.60 345.72 L198.60 345.16 L199.60 344.60 L200.60 344.05 L201.60 343.50 L202.60 342.96 L203.60 342.42 L204.61 341.88 L205.61 341.35 L206.61 340.82 L207.61 340.29 L208.61 339.77 L209.61 339.25 L210.61 338.73 L211.61 338.22 L212.61 337.71 L213.61 337.21 L214.61 336.71 L215.61 336.21 L216.61 335.71 L217.61 335.22 L218.61 334.73 L219.62 334.25 L220.62 333.76 L221.62 333.29 L222.62 332.81 L223.62 332.34 L224.62 331.87 L225.62 331.40 L226.62 330.94 L227.62 330.48 L228.62 330.02 L229.62 329.57 L230.62 329.12 L231.62 328.67 L232.62 328.23 L233.63 327.78 L234.63 327.35 L235.63 326.91 L236.63 326.48 L237.63 326.05 L238.63 325.62 L239.63 325.19 L240.63 324.77 L241.63 324.35 L242.63 323.94 L243.63 323.52 L244.63 323.11 L245.63 322.70 L246.63 322.30 L247.63 321.90 L248.64 321.50 L249.64 321.10 L250.64 320.70 L251.64 320.31 L252.64 319.92 L253.64 319.53 L254.64 319.15 L255.64 318.77 L256.64 318.39 L257.64 318.01 L258.64 317.63 L259.64 317.26 L260.64 316.89 L261.64 316.52 L262.65 316.16 L263.65 315.79 L264.65 315.43 L265.65 315.07 L266.65 314.72 L267.65 314.36 L268.65 314.01 L269.65 313.66 L270.65 313.32 L271.65 312.97 L272.65 312.63 L273.65 312.29 L274.65 311.95 L275.65 311.61 L276.65 311.28 L277.66 310.95 L278.66 310.62 L279.66 310.29 L280.66 309.96 L281.66 309.64 L282.66 309.32 L283.66 309.00 L284.66 308.68 L285.66 308.37 L286.66 308.05 L287.66 307.74 L288.66 307.43 L289.66 307.12 L290.66 306.82 L291.66 306.51 L292.67 306.21 L293.67 305.91 L294.67 305.61 L295.67 305.32 L296.67 305.02 L297.67 304.73 L298.67 304.44 L299.67 304.15 L300.67 303.86 L301.67 303.58 L302.67 303.29 L303.67 303.01 L304.67 302.73 L305.67 302.45 L306.68 302.18 L307.68 301.90 L308.68 301.63 L309.68 301.36 L310.68 301.09 L311.68 300.82 L312.68 300.55 L313.68 300.28 L314.68 300.02 L315.68 299.76 L316.68 299.50 L317.68 299.24 L318.68 298.98 L319.68 298.73 L320.68 298.47 L321.69 298.22 L322.69 297.97 L323.69 297.72 L324.69 297.47 L325.69 297.23 L326.69 296.98 L327.69 296.74 L328.69 296.50 L329.69 296.26 L330.69 296.02 L331.69 295.78 L332.69 295.54 L333.69 295.31 L334.69 295.08 L335.70 294.84 L336.70 294.61 L337.70 294.38 L338.70 294.16 L339.70 293.93 L340.70 293.70 L341.70 293.48 L342.70 293.26" stroke="#800000" stroke-width="2.35"/>
<path d="M51.50 460.00 L51.81 459.99 L52.11 459.98 L52.42 459.95 L52.50 459.94 L52.73 459.91 L53.03 459.86 L53.34 459.80 L53.51 459.76 L53.64 459.73 L53.95 459.64 L54.26 459.55 L54.51 459.46 L54.56 459.45 L54.87 459.33 L55.18 459.21 L55.48 459.07 L55.51 459.06 L55.79 458.93 L56.09 458.78 L56.40 458.62 L56.52 458.55 L56.71 458.45 L57.01 458.27 L57.32 458.08 L57.52 457.95 L57.63 457.88 L57.93 457.68 L58.24 457.46 L58.52 457.26 L58.54 457.24 L58.85 457.01 L59.16 456.77 L59.46 456.53 L59.53 456.48 L59.77 456.27 L60.08 456.01 L60.38 455.74 L60.53 455.61 L60.69 455.47 L61.00 455.18 L61.30 454.89 L61.53 454.66 L61.61 454.59 L61.91 454.28 L62.22 453.97 L62.53 453.65 L62.54 453.64 L62.83 453.32 L63.14 452.99 L63.45 452.65 L63.54 452.54 L63.75 452.30 L64.06 451.95 L64.36 451.58 L64.54 451.37 L64.67 451.22 L64.98 450.84 L65.28 450.46 L65.54 450.13 L65.59 450.07 L65.90 449.68 L66.20 449.28 L66.51 448.88 L66.55 448.82 L66.82 448.47 L67.12 448.05 L67.43 447.62 L67.55 447.45 L67.73 447.20 L68.04 446.76 L68.35 446.32 L68.55 446.02 L68.65 445.88 L68.96 445.42 L69.27 444.97 L69.56 444.53 L69.57 444.51 L69.88 444.04 L70.18 443.57 L70.49 443.09 L70.56 442.98 L70.80 442.61 L71.10 442.12 L71.41 441.63 L71.56 441.38 L71.72 441.13 L72.02 440.63 L72.33 440.13 L72.57 439.73 L72.63 439.62 L72.94 439.11 L73.25 438.59 L73.55 438.07 L73.57 438.04 L73.86 437.54 L74.17 437.01 L74.47 436.48 L74.57 436.30 L74.78 435.94 L75.09 435.40 L75.39 434.85 L75.58 434.52 L75.70 434.31 L76.00 433.75 L76.31 433.20 L76.58 432.71 L76.62 432.64 L76.92 432.08 L77.23 431.52 L77.54 430.95 L77.58 430.86 L77.84 430.38 L78.15 429.81 L78.45 429.23 L78.59 428.98 L78.76 428.65 L79.07 428.07 L79.37 427.49 L79.59 427.08 L79.68 426.91 L79.99 426.32 L80.29 425.73 L80.59 425.15 L80.60 425.14 L80.91 424.54 L81.21 423.95 L81.52 423.35 L81.60 423.20 L81.82 422.75 L82.13 422.15 L82.44 421.55 L82.60 421.23 L82.74 420.94 L83.05 420.34 L83.36 419.73 L83.60 419.24 L83.66 419.12 L83.97 418.51 L84.27 417.90 L84.58 417.29 L84.61 417.24 L84.89 416.68 L85.19 416.06 L85.50 415.45 L85.61 415.23 L85.81 414.83 L86.11 414.21 L86.42 413.60 L86.61 413.21 L86.72 412.98 L87.03 412.36 L87.34 411.74 L87.62 411.18 L87.64 411.12 L87.95 410.50 L88.62 409.15 L89.62 407.11 L90.62 405.07 L91.63 403.04 L92.63 401.00 L93.63 398.97 L94.64 396.95 L95.64 394.93 L96.64 392.92 L97.65 390.92 L98.65 388.93 L99.65 386.96 L100.66 384.99 L101.66 383.04 L102.66 381.10 L103.67 379.17 L104.67 377.26 L105.67 375.37 L106.68 373.49 L107.68 371.62 L108.68 369.78 L109.69 367.95 L110.69 366.14 L111.69 364.34 L112.70 362.57 L113.70 360.81 L114.70 359.07 L115.71 357.34 L116.71 355.64 L117.71 353.95 L118.71 352.28 L119.72 350.63 L120.72 349.00 L121.72 347.38 L122.73 345.78 L123.73 344.20 L124.73 342.64 L125.74 341.09 L126.74 339.57 L127.74 338.05 L128.75 336.56 L129.75 335.08 L130.75 333.62 L131.76 332.17 L132.76 330.74 L133.76 329.33 L134.77 327.93 L135.77 326.55 L136.77 325.18 L137.78 323.82 L138.78 322.49 L139.78 321.16 L140.79 319.85 L141.79 318.55 L142.79 317.27 L143.79 316.00 L144.80 314.74 L145.80 313.50 L146.80 312.26 L147.81 311.05 L148.81 309.84 L149.81 308.64 L150.82 307.46 L151.82 306.28 L152.82 305.12 L153.83 303.97 L154.83 302.83 L155.83 301.70 L156.84 300.58 L157.84 299.47 L158.84 298.37 L159.85 297.28 L160.85 296.20 L161.85 295.13 L162.86 294.07 L163.86 293.01 L164.86 291.97 L165.87 290.93 L166.87 289.90 L167.87 288.88 L168.88 287.87 L169.88 286.86 L170.88 285.86 L171.88 284.87 L172.89 283.89 L173.89 282.91 L174.89 281.94 L175.90 280.98 L176.90 280.02 L177.90 279.07 L178.91 278.12 L179.91 277.18 L180.91 276.25 L181.92 275.32 L182.92 274.40 L183.92 273.48 L184.93 272.57 L185.93 271.66 L186.93 270.76 L187.94 269.86 L188.94 268.97 L189.94 268.08 L190.95 267.20 L191.95 266.32 L192.95 265.44 L193.96 264.57 L194.96 263.70 L195.96 262.84 L196.96 261.98 L197.97 261.12 L198.97 260.27 L199.97 259.42 L200.98 258.57 L201.98 257.73 L202.98 256.89 L203.99 256.05 L204.99 255.21 L205.99 254.38 L207.00 253.55 L208.00 252.73" stroke="#008080" stroke-width="2.5"/>
</g>
<path d="M343.4 452 V455.6" stroke="#ff0000" stroke-width="1.4" fill="none"/>
<path d="M343.5 456.5 V459.6" stroke="#000" stroke-width="1.2" fill="none"/>
<path d="M100 457.6 H107 M114.6 457.5 H120.6 M134.3 457.5 H142.7 M158.6 457.3 H164.7 M214 456.2 H222 M236 455.6 H241" stroke="#000" stroke-width="0.9" fill="none"/>
<path d="M323 445.2 L329.3 457.6" stroke="#000" stroke-width="0.9" fill="none"/>
<g font-family="'Liberation Sans', sans-serif" font-size="13.7" fill="#111">
<text transform="translate(45.4 249.3) scale(0.94 1)" text-anchor="end">0.0</text>
<text transform="translate(45.4 188.0) scale(0.94 1)" text-anchor="end">0.4</text>
<text transform="translate(45.4 126.6) scale(0.94 1)" text-anchor="end">0.8</text>
<text transform="translate(45.4 65.3) scale(0.94 1)" text-anchor="end">.2</text>
<path transform="translate(27.50 65.30) scale(12.878 -13.700)" d="M0.373 0 L0.285 0 L0.285 0.560 Q0.253 0.530 0.202 0.500 Q0.150 0.469 0.109 0.454 L0.109 0.539 Q0.183 0.574 0.239 0.624 Q0.294 0.673 0.317 0.720 L0.373 0.720 Z" fill="#111"/>
<text transform="translate(45.4 463.8) scale(0.94 1)" text-anchor="end">0.00</text>
<text transform="translate(45.4 409.3) scale(0.94 1)" text-anchor="end">0.02</text>
<text transform="translate(45.4 354.8) scale(0.94 1)" text-anchor="end">0.04</text>
<text transform="translate(45.4 300.3) scale(0.94 1)" text-anchor="end">0.06</text>
<text transform="translate(51.5 475.8) scale(0.94 1)" text-anchor="middle">0</text>
<text transform="translate(124.4 475.8) scale(0.94 1)" text-anchor="middle">2</text>
<text transform="translate(197.3 475.8) scale(0.94 1)" text-anchor="middle">4</text>
<text transform="translate(270.2 475.8) scale(0.94 1)" text-anchor="middle">6</text>
<text transform="translate(343.1 475.8) scale(0.94 1)" text-anchor="middle">8</text>
</g>
<g font-family="'Liberation Sans', sans-serif" font-size="11.8">
<text x="347.9" y="47.9" fill="#ff0080">2.8 K</text>
<text x="347.5" y="156.4" fill="#8000ff">2.9 K</text>
<text x="347.9" y="179.1" fill="#000080">3 K</text>
<text x="348.2" y="218.3" fill="#808000">3.5 K</text>
<text x="198.3" y="276.4" fill="#008080">4.2 K</text>
<text x="347.5" y="296.1" fill="#800000">5 K</text>
<text x="349.2" y="349.1" fill="#008000">6 K</text>
<text x="347.8" y="394.9" fill="#ff8000">8 K</text>
<path transform="translate(345.00 419.20) scale(11.800 -11.800)" d="M0.373 0 L0.285 0 L0.285 0.560 Q0.253 0.530 0.202 0.500 Q0.150 0.469 0.109 0.454 L0.109 0.539 Q0.183 0.574 0.239 0.624 Q0.294 0.673 0.317 0.720 L0.373 0.720 Z" fill="#0000ff"/>
<text x="351.56" y="419.2" fill="#0000ff">0 K</text>
<text x="349.3" y="453.2" fill="#ff0000">20 K</text>
<text x="308.2" y="440.0" fill="#111">50 K</text>
</g>
<g font-family="'Liberation Sans', sans-serif" font-size="13" fill="#111">
<text transform="translate(12.3 207.0) rotate(-90)" text-anchor="middle" font-size="13.14">Magnetoresistance ΔR/R</text>
<text x="189.0" y="491.7" font-family="'Liberation Serif', serif" font-size="12.5">μ</text>
<text x="195.0" y="496.3" font-size="8.6">0</text>
<text x="198.9" y="491.7" font-size="12">H (T)</text>
</g>
</svg>
</body>
</html>
